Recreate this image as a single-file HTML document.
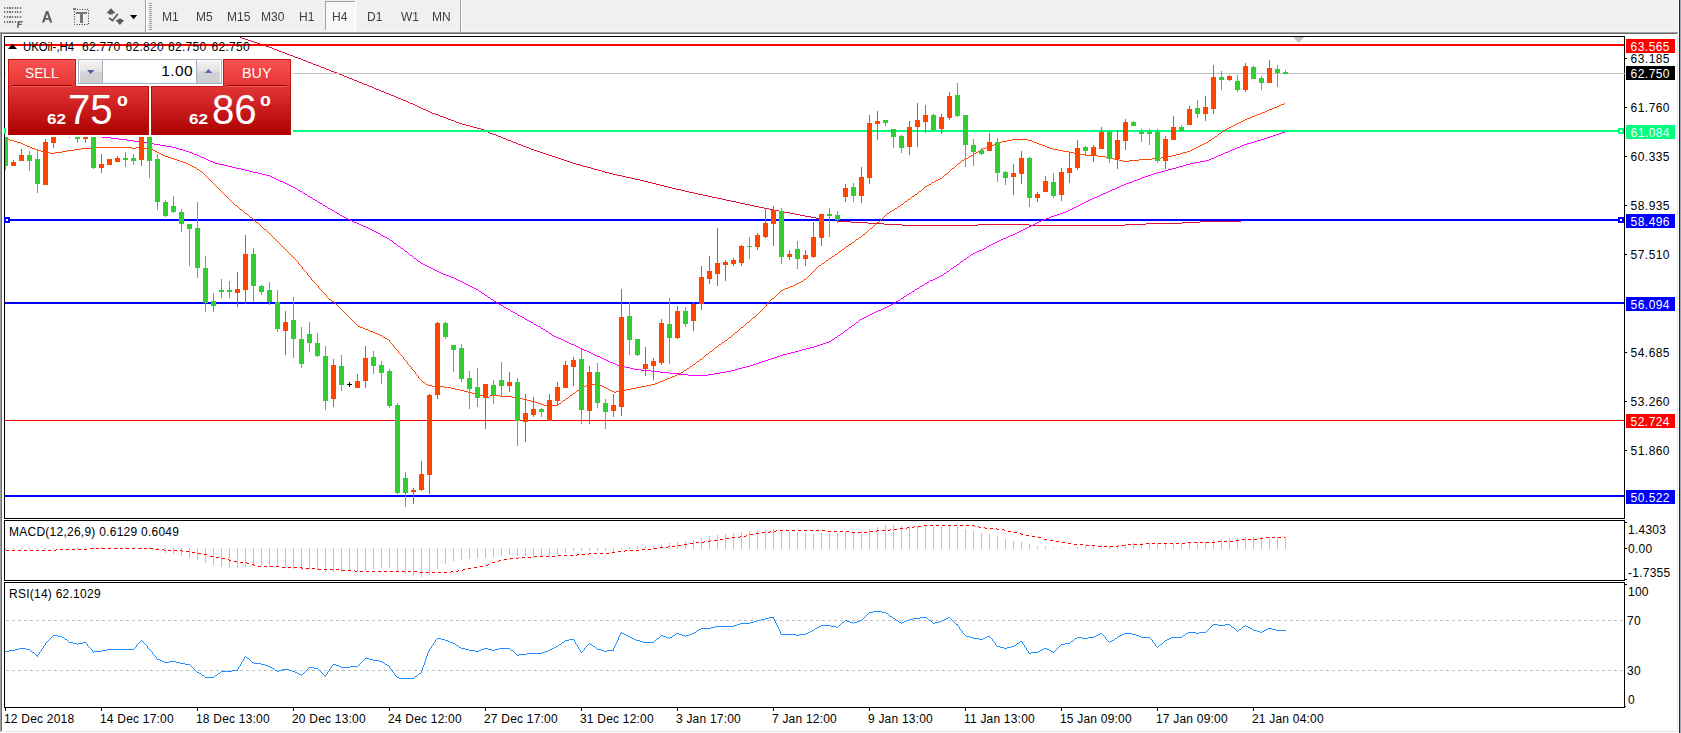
<!DOCTYPE html>
<html><head><meta charset="utf-8"><title>UKOil H4</title>
<style>
html,body{margin:0;padding:0;background:#fff;}
body{width:1681px;height:733px;overflow:hidden;position:relative;font-family:"Liberation Sans",sans-serif;}
svg{position:absolute;left:0;top:0;}
.t{position:absolute;white-space:pre;font-family:"Liberation Sans",sans-serif;}
</style></head><body>
<svg width="1681" height="733" viewBox="0 0 1681 733" shape-rendering="crispEdges">
<rect x="0" y="0" width="1681" height="733" fill="#fff"/>
<rect x="0" y="0" width="1678" height="32" fill="#f0f0f0"/>
<rect x="0" y="31" width="1678" height="1" fill="#f6f6f6"/>
<rect x="0" y="32" width="1678" height="1" fill="#a0a0a0"/>
<rect x="0" y="32" width="1" height="700" fill="#a0a0a0"/>
<rect x="1" y="33" width="1677" height="1" fill="#696969"/>
<rect x="1" y="33" width="1" height="698" fill="#696969"/>
<rect x="1677" y="33" width="1" height="699" fill="#e3e3e3"/>
<rect x="2" y="731" width="1676" height="1" fill="#e3e3e3"/>
<rect x="1678" y="0" width="1" height="733" fill="#fff"/>
<rect x="0" y="732" width="1679" height="1" fill="#fff"/>
<rect x="1679" y="0" width="1" height="733" fill="#222833"/>
<rect x="1680" y="0" width="1" height="733" fill="#a0a8b8"/>
<rect x="4" y="7" width="18" height="2" fill="#d6d6d6"/>
<rect x="4.3" y="7" width="1.1" height="2" fill="#7a7a7a"/>
<rect x="6.87" y="7" width="1.1" height="2" fill="#7a7a7a"/>
<rect x="9.44" y="7" width="1.1" height="2" fill="#7a7a7a"/>
<rect x="12.01" y="7" width="1.1" height="2" fill="#7a7a7a"/>
<rect x="14.58" y="7" width="1.1" height="2" fill="#7a7a7a"/>
<rect x="17.15" y="7" width="1.1" height="2" fill="#7a7a7a"/>
<rect x="19.72" y="7" width="1.1" height="2" fill="#7a7a7a"/>
<rect x="4" y="11" width="18" height="2" fill="#d6d6d6"/>
<rect x="4.3" y="11" width="1.1" height="2" fill="#7a7a7a"/>
<rect x="6.87" y="11" width="1.1" height="2" fill="#7a7a7a"/>
<rect x="9.44" y="11" width="1.1" height="2" fill="#7a7a7a"/>
<rect x="12.01" y="11" width="1.1" height="2" fill="#7a7a7a"/>
<rect x="14.58" y="11" width="1.1" height="2" fill="#7a7a7a"/>
<rect x="17.15" y="11" width="1.1" height="2" fill="#7a7a7a"/>
<rect x="19.72" y="11" width="1.1" height="2" fill="#7a7a7a"/>
<rect x="4" y="16" width="18" height="2" fill="#d6d6d6"/>
<rect x="4.3" y="16" width="1.1" height="2" fill="#7a7a7a"/>
<rect x="6.87" y="16" width="1.1" height="2" fill="#7a7a7a"/>
<rect x="9.44" y="16" width="1.1" height="2" fill="#7a7a7a"/>
<rect x="12.01" y="16" width="1.1" height="2" fill="#7a7a7a"/>
<rect x="14.58" y="16" width="1.1" height="2" fill="#7a7a7a"/>
<rect x="17.15" y="16" width="1.1" height="2" fill="#7a7a7a"/>
<rect x="19.72" y="16" width="1.1" height="2" fill="#7a7a7a"/>
<rect x="4" y="21" width="13" height="2" fill="#d6d6d6"/>
<rect x="4.3" y="21" width="1.1" height="2" fill="#7a7a7a"/>
<rect x="6.87" y="21" width="1.1" height="2" fill="#7a7a7a"/>
<rect x="9.44" y="21" width="1.1" height="2" fill="#7a7a7a"/>
<rect x="12.01" y="21" width="1.1" height="2" fill="#7a7a7a"/>
<rect x="14.58" y="21" width="1.1" height="2" fill="#7a7a7a"/>
<rect x="74.5" y="9.5" width="14" height="15" fill="none" stroke="#3a3a3a" stroke-width="1" stroke-dasharray="1 1.5" shape-rendering="auto"/>
<rect x="73" y="7.5" width="2.6" height="2" fill="#7a7a7a"/>
<rect x="76.3" y="12" width="10.2" height="2" fill="#787878"/>
<rect x="80" y="12" width="2.8" height="10.6" fill="#787878"/>
<g shape-rendering="auto" fill="#5c5c5c"><path d="M110.9 8.3 L115.7 13.3 L113 13.3 L113 14.6 L108.8 14.6 L108.8 13.3 L106.3 13.3 Z"/><path d="M119.9 25 L124.4 20 L122 20 L122 18.8 L117.8 18.8 L117.8 20 L115.4 20 Z"/><path d="M109 17.8 L112.4 20.7 L117.8 14" fill="none" stroke="#505050" stroke-width="1.6"/></g>
<path d="M130 15 L137.2 15 L133.6 19.2 Z" fill="#000" shape-rendering="auto"/>
<rect x="145" y="0" width="1" height="32" fill="#a0a0a0"/>
<rect x="146" y="0" width="1" height="32" fill="#fff"/>
<rect x="149" y="3" width="3" height="1" fill="#a0a0a0"/>
<rect x="149" y="5" width="3" height="1" fill="#a0a0a0"/>
<rect x="149" y="7" width="3" height="1" fill="#a0a0a0"/>
<rect x="149" y="9" width="3" height="1" fill="#a0a0a0"/>
<rect x="149" y="11" width="3" height="1" fill="#a0a0a0"/>
<rect x="149" y="13" width="3" height="1" fill="#a0a0a0"/>
<rect x="149" y="15" width="3" height="1" fill="#a0a0a0"/>
<rect x="149" y="17" width="3" height="1" fill="#a0a0a0"/>
<rect x="149" y="19" width="3" height="1" fill="#a0a0a0"/>
<rect x="149" y="21" width="3" height="1" fill="#a0a0a0"/>
<rect x="149" y="23" width="3" height="1" fill="#a0a0a0"/>
<rect x="149" y="25" width="3" height="1" fill="#a0a0a0"/>
<rect x="149" y="27" width="3" height="1" fill="#a0a0a0"/>
<rect x="149" y="29" width="3" height="1" fill="#a0a0a0"/>
<rect x="460" y="0" width="1" height="32" fill="#a0a0a0"/>
<rect x="461" y="0" width="1" height="32" fill="#fff"/>
<rect x="325" y="1" width="31" height="29" fill="#f8f8f8"/>
<rect x="325" y="1" width="31" height="1" fill="#a0a0a0"/>
<rect x="325" y="1" width="1" height="29" fill="#a0a0a0"/>
<rect x="355" y="1" width="1" height="30" fill="#fff"/>
<rect x="325" y="30" width="31" height="1" fill="#fff"/>
<rect x="4" y="36" width="1621" height="1" fill="#000"/>
<rect x="4" y="518" width="1621" height="1" fill="#000"/>
<rect x="4" y="36" width="1" height="483" fill="#000"/>
<rect x="1624" y="36" width="1" height="483" fill="#000"/>
<rect x="4" y="520" width="1621" height="1" fill="#000"/>
<rect x="4" y="580" width="1621" height="1" fill="#000"/>
<rect x="4" y="520" width="1" height="61" fill="#000"/>
<rect x="1624" y="520" width="1" height="61" fill="#000"/>
<rect x="4" y="582" width="1621" height="1" fill="#000"/>
<rect x="4" y="707" width="1621" height="1" fill="#000"/>
<rect x="4" y="582" width="1" height="126" fill="#000"/>
<rect x="1624" y="582" width="1" height="126" fill="#000"/>
<clipPath id="cm"><rect x="5" y="37" width="1619" height="481"/></clipPath><g clip-path="url(#cm)">
<path d="M1293 37 L1304.5 37 L1298.7 43 Z" fill="#c0c0c0" shape-rendering="auto"/>
<path d="M232.5 34V35M233.5 34V35M234.5 35V36M235.5 35V36M236.5 35V36M237.5 36V37M238.5 36V37M239.5 36V37M240.5 37V38M241.5 37V38M242.5 38V39M243.5 38V39M244.5 38V39M245.5 39V40M246.5 39V40M247.5 39V40M248.5 40V41M249.5 40V41M250.5 40V41M251.5 41V42M252.5 41V42M253.5 41V42M254.5 42V43M255.5 42V43M256.5 42V43M257.5 43V44M258.5 43V44M259.5 43V44M260.5 44V45M261.5 44V45M262.5 44V45M263.5 45V46M264.5 45V46M265.5 45V46M266.5 46V47M267.5 46V47M268.5 46V47M269.5 47V48M270.5 47V48M271.5 47V48M272.5 48V49M273.5 48V49M274.5 49V50M275.5 49V50M276.5 49V50M277.5 50V51M278.5 50V51M279.5 51V52M280.5 51V52M281.5 51V52M282.5 52V53M283.5 52V53M284.5 52V53M285.5 53V54M286.5 53V54M287.5 54V55M288.5 54V55M289.5 54V55M290.5 55V56M291.5 55V56M292.5 55V56M293.5 56V57M294.5 56V57M295.5 57V58M296.5 57V58M297.5 57V58M298.5 58V59M299.5 58V59M300.5 58V59M301.5 59V60M302.5 59V60M303.5 60V61M304.5 60V61M305.5 60V61M306.5 61V62M307.5 61V62M308.5 62V63M309.5 62V63M310.5 62V63M311.5 63V64M312.5 63V64M313.5 64V65M314.5 64V65M315.5 64V65M316.5 65V66M317.5 65V66M318.5 65V66M319.5 66V67M320.5 66V67M321.5 67V68M322.5 67V68M323.5 67V68M324.5 68V69M325.5 68V69M326.5 69V70M327.5 69V70M328.5 69V70M329.5 70V71M330.5 70V71M331.5 71V72M332.5 71V72M333.5 71V72M334.5 72V73M335.5 72V73M336.5 72V73M337.5 73V74M338.5 73V74M339.5 74V75M340.5 74V75M341.5 74V75M342.5 75V76M343.5 75V76M344.5 76V77M345.5 76V77M346.5 76V77M347.5 77V78M348.5 77V78M349.5 78V79M350.5 78V79M351.5 78V79M352.5 79V80M353.5 79V80M354.5 80V81M355.5 80V81M356.5 80V81M357.5 81V82M358.5 81V82M359.5 82V83M360.5 82V83M361.5 82V83M362.5 83V84M363.5 83V84M364.5 84V85M365.5 84V85M366.5 84V85M367.5 85V86M368.5 85V86M369.5 86V87M370.5 86V87M371.5 86V87M372.5 87V88M373.5 87V88M374.5 88V89M375.5 88V89M376.5 89V90M377.5 89V90M378.5 89V90M379.5 90V91M380.5 90V91M381.5 91V92M382.5 91V92M383.5 91V92M384.5 92V93M385.5 92V93M386.5 93V94M387.5 93V94M388.5 93V94M389.5 94V95M390.5 94V95M391.5 95V96M392.5 95V96M393.5 95V96M394.5 96V97M395.5 96V97M396.5 97V98M397.5 97V98M398.5 98V99M399.5 98V99M400.5 98V99M401.5 99V100M402.5 99V100M403.5 100V101M404.5 100V101M405.5 100V101M406.5 101V102M407.5 101V102M408.5 102V103M409.5 102V103M410.5 103V104M411.5 103V104M412.5 103V104M413.5 104V105M414.5 104V105M415.5 105V106M416.5 105V106M417.5 106V107M418.5 106V107M419.5 107V108M420.5 107V108M421.5 108V109M422.5 108V109M423.5 109V110M424.5 109V110M425.5 109V110M426.5 110V111M427.5 110V111M428.5 111V112M429.5 111V112M430.5 112V113M431.5 112V113M432.5 113V114M433.5 113V114M434.5 113V114M435.5 114V115M436.5 114V115M437.5 114V115M438.5 115V116M439.5 115V116M440.5 116V117M441.5 116V117M442.5 116V117M443.5 117V118M444.5 117V118M445.5 117V118M446.5 118V119M447.5 118V119M448.5 119V120M449.5 119V120M450.5 119V120M451.5 120V121M452.5 120V121M453.5 120V121M454.5 121V122M455.5 121V122M456.5 122V123M457.5 122V123M458.5 122V123M459.5 123V124M460.5 123V124M461.5 123V124M462.5 124V125M463.5 124V125M464.5 124V125M465.5 124V125M466.5 125V126M467.5 125V126M468.5 125V126M469.5 125V126M470.5 126V127M471.5 126V127M472.5 126V127M473.5 127V128M474.5 127V128M475.5 127V128M476.5 127V128M477.5 128V129M478.5 128V129M479.5 128V129M480.5 128V129M481.5 129V130M482.5 129V130M483.5 129V130M484.5 130V131M485.5 130V131M486.5 131V132M487.5 131V132M488.5 132V133M489.5 132V133M490.5 133V134M491.5 133V134M492.5 133V134M493.5 134V135M494.5 134V135M495.5 134V135M496.5 135V136M497.5 135V136M498.5 136V137M499.5 136V137M500.5 136V137M501.5 137V138M502.5 137V138M503.5 138V139M504.5 138V139M505.5 138V139M506.5 139V140M507.5 139V140M508.5 140V141M509.5 140V141M510.5 140V141M511.5 141V142M512.5 141V142M513.5 142V143M514.5 142V143M515.5 142V143M516.5 143V144M517.5 143V144M518.5 144V145M519.5 144V145M520.5 144V145M521.5 145V146M522.5 145V146M523.5 146V147M524.5 146V147M525.5 146V147M526.5 147V148M527.5 147V148M528.5 147V148M529.5 148V149M530.5 148V149M531.5 149V150M532.5 149V150M533.5 149V150M534.5 150V151M535.5 150V151M536.5 150V151M537.5 151V152M538.5 151V152M539.5 151V152M540.5 152V153M541.5 152V153M542.5 152V153M543.5 153V154M544.5 153V154M545.5 153V154M546.5 154V155M547.5 154V155M548.5 154V155M549.5 155V156M550.5 155V156M551.5 155V156M552.5 156V157M553.5 156V157M554.5 156V157M555.5 157V158M556.5 157V158M557.5 157V158M558.5 158V159M559.5 158V159M560.5 158V159M561.5 159V160M562.5 159V160M563.5 159V160M564.5 160V161M565.5 160V161M566.5 160V161M567.5 161V162M568.5 161V162M569.5 161V162M570.5 162V163M571.5 162V163M572.5 162V163M573.5 163V164M574.5 163V164M575.5 163V164M576.5 164V165M577.5 164V165M578.5 164V165M579.5 164V165M580.5 165V166M581.5 165V166M582.5 165V166M583.5 166V167M584.5 166V167M585.5 166V167M586.5 166V167M587.5 167V168M588.5 167V168M589.5 167V168M590.5 167V168M591.5 168V169M592.5 168V169M593.5 168V169M594.5 169V170M595.5 169V170M596.5 169V170M597.5 169V170M598.5 170V171M599.5 170V171M600.5 170V171M601.5 170V171M602.5 171V172M603.5 171V172M604.5 171V172M605.5 172V173M606.5 172V173M607.5 172V173M608.5 172V173M609.5 173V174M610.5 173V174M611.5 173V174M612.5 173V174M613.5 174V175M614.5 174V175M615.5 174V175M616.5 174V175M617.5 175V176M618.5 175V176M619.5 175V176M620.5 175V176M621.5 175V176M622.5 176V177M623.5 176V177M624.5 176V177M625.5 176V177M626.5 177V178M627.5 177V178M628.5 177V178M629.5 177V178M630.5 177V178M631.5 178V179M632.5 178V179M633.5 178V179M634.5 178V179M635.5 179V180M636.5 179V180M637.5 179V180M638.5 179V180M639.5 179V180M640.5 180V181M641.5 180V181M642.5 180V181M643.5 180V181M644.5 181V182M645.5 181V182M646.5 181V182M647.5 181V182M648.5 182V183M649.5 182V183M650.5 182V183M651.5 182V183M652.5 183V184M653.5 183V184M654.5 183V184M655.5 183V184M656.5 184V185M657.5 184V185M658.5 184V185M659.5 184V185M660.5 185V186M661.5 185V186M662.5 185V186M663.5 185V186M664.5 186V187M665.5 186V187M666.5 186V187M667.5 186V187M668.5 187V188M669.5 187V188M670.5 187V188M671.5 187V188M672.5 188V189M673.5 188V189M674.5 188V189M675.5 188V189M676.5 189V190M677.5 189V190M678.5 189V190M679.5 189V190M680.5 189V190M681.5 190V191M682.5 190V191M683.5 190V191M684.5 190V191M685.5 191V192M686.5 191V192M687.5 191V192M688.5 191V192M689.5 192V193M690.5 192V193M691.5 192V193M692.5 192V193M693.5 192V193M694.5 193V194M695.5 193V194M696.5 193V194M697.5 193V194M698.5 194V195M699.5 194V195M700.5 194V195M701.5 194V195M702.5 194V195M703.5 195V196M704.5 195V196M705.5 195V196M706.5 195V196M707.5 195V196M708.5 196V197M709.5 196V197M710.5 196V197M711.5 196V197M712.5 197V198M713.5 197V198M714.5 197V198M715.5 197V198M716.5 197V198M717.5 198V199M718.5 198V199M719.5 198V199M720.5 198V199M721.5 198V199M722.5 199V200M723.5 199V200M724.5 199V200M725.5 199V200M726.5 200V201M727.5 200V201M728.5 200V201M729.5 200V201M730.5 200V201M731.5 201V202M732.5 201V202M733.5 201V202M734.5 201V202M735.5 201V202M736.5 202V203M737.5 202V203M738.5 202V203M739.5 202V203M740.5 203V204M741.5 203V204M742.5 203V204M743.5 203V204M744.5 203V204M745.5 204V205M746.5 204V205M747.5 204V205M748.5 204V205M749.5 204V205M750.5 205V206M751.5 205V206M752.5 205V206M753.5 205V206M754.5 206V207M755.5 206V207M756.5 206V207M757.5 206V207M758.5 206V207M759.5 207V208M760.5 207V208M761.5 207V208M762.5 207V208M763.5 207V208M764.5 208V209M765.5 208V209M766.5 208V209M767.5 208V209M768.5 208V209M769.5 209V210M770.5 209V210M771.5 209V210M772.5 209V210M773.5 209V210M774.5 210V211M775.5 210V211M776.5 210V211M777.5 210V211M778.5 210V211M779.5 211V212M780.5 211V212M781.5 211V212M782.5 211V212M783.5 211V212M784.5 212V213M785.5 212V213M786.5 212V213M787.5 212V213M788.5 212V213M789.5 212V213M790.5 213V214M791.5 213V214M792.5 213V214M793.5 213V214M794.5 213V214M795.5 214V215M796.5 214V215M797.5 214V215M798.5 214V215M799.5 214V215M800.5 215V216M801.5 215V216M802.5 215V216M803.5 215V216M804.5 215V216M805.5 216V217M806.5 216V217M807.5 216V217M808.5 216V217M809.5 216V217M810.5 216V217M811.5 217V218M812.5 217V218M813.5 217V218M814.5 217V218M815.5 217V218M816.5 218V219M817.5 218V219M818.5 218V219M819.5 218V219M820.5 218V219M821.5 218V219M822.5 219V220M823.5 219V220M824.5 219V220M825.5 219V220M826.5 219V220M827.5 219V220M828.5 219V220M829.5 219V220M830.5 220V221M831.5 220V221M832.5 220V221M833.5 220V221M834.5 220V221M835.5 220V221M836.5 220V221M837.5 220V221M838.5 221V222M839.5 221V222M840.5 221V222M841.5 221V222M842.5 221V222M843.5 221V222M844.5 221V222M845.5 221V222M846.5 221V222M847.5 221V222M848.5 221V222M849.5 221V222M850.5 221V222M851.5 222V223M852.5 222V223M853.5 222V223M854.5 222V223M855.5 222V223M856.5 222V223M857.5 222V223M858.5 222V223M859.5 222V223M860.5 222V223M861.5 222V223M862.5 222V223M863.5 222V223M864.5 222V223M865.5 222V223M866.5 222V223M867.5 222V223M868.5 223V224M869.5 223V224M870.5 223V224M871.5 223V224M872.5 223V224M873.5 223V224M874.5 223V224M875.5 223V224M876.5 223V224M877.5 223V224M878.5 223V224M879.5 223V224M880.5 223V224M881.5 223V224M882.5 223V224M883.5 223V224M884.5 224V225M885.5 224V225M886.5 224V225M887.5 224V225M888.5 224V225M889.5 224V225M890.5 224V225M891.5 224V225M892.5 224V225M893.5 224V225M894.5 224V225M895.5 224V225M896.5 224V225M897.5 224V225M898.5 224V225M899.5 224V225M900.5 224V225M901.5 224V225M902.5 225V226M903.5 225V226M904.5 225V226M905.5 225V226M906.5 225V226M907.5 225V226M908.5 225V226M909.5 225V226M910.5 225V226M911.5 225V226M912.5 225V226M913.5 225V226M914.5 225V226M915.5 225V226M916.5 225V226M917.5 225V226M918.5 225V226M919.5 225V226M920.5 225V226M921.5 225V226M922.5 225V226M923.5 225V226M924.5 225V226M925.5 225V226M926.5 225V226M927.5 225V226M928.5 225V226M929.5 225V226M930.5 225V226M931.5 225V226M932.5 225V226M933.5 225V226M934.5 225V226M935.5 225V226M936.5 225V226M937.5 225V226M938.5 225V226M939.5 225V226M940.5 225V226M941.5 225V226M942.5 225V226M943.5 225V226M944.5 225V226M945.5 225V226M946.5 225V226M947.5 225V226M948.5 225V226M949.5 225V226M950.5 225V226M951.5 225V226M952.5 225V226M953.5 225V226M954.5 225V226M955.5 225V226M956.5 225V226M957.5 225V226M958.5 225V226M959.5 225V226M960.5 225V226M961.5 225V226M962.5 225V226M963.5 225V226M964.5 225V226M965.5 225V226M966.5 225V226M967.5 225V226M968.5 225V226M969.5 225V226M970.5 225V226M971.5 225V226M972.5 225V226M973.5 225V226M974.5 225V226M975.5 225V226M976.5 225V226M977.5 225V226M978.5 224V225M979.5 224V225M980.5 224V225M981.5 224V225M982.5 224V225M983.5 224V225M984.5 224V225M985.5 224V225M986.5 224V225M987.5 224V225M988.5 224V225M989.5 224V225M990.5 224V225M991.5 224V225M992.5 224V225M993.5 224V225M994.5 224V225M995.5 224V225M996.5 224V225M997.5 224V225M998.5 224V225M999.5 224V225M1000.5 224V225M1001.5 224V225M1002.5 224V225M1003.5 224V225M1004.5 224V225M1005.5 224V225M1006.5 224V225M1007.5 224V225M1008.5 224V225M1009.5 224V225M1010.5 224V225M1011.5 224V225M1012.5 224V225M1013.5 224V225M1014.5 224V225M1015.5 224V225M1016.5 224V225M1017.5 224V225M1018.5 224V225M1019.5 224V225M1020.5 224V225M1021.5 224V225M1022.5 224V225M1023.5 224V225M1024.5 224V225M1025.5 224V225M1026.5 224V225M1027.5 224V225M1028.5 224V225M1029.5 225V226M1030.5 225V226M1031.5 225V226M1032.5 225V226M1033.5 225V226M1034.5 225V226M1035.5 225V226M1036.5 225V226M1037.5 225V226M1038.5 225V226M1039.5 225V226M1040.5 225V226M1041.5 225V226M1042.5 225V226M1043.5 225V226M1044.5 225V226M1045.5 225V226M1046.5 225V226M1047.5 225V226M1048.5 225V226M1049.5 225V226M1050.5 225V226M1051.5 225V226M1052.5 225V226M1053.5 225V226M1054.5 225V226M1055.5 225V226M1056.5 225V226M1057.5 225V226M1058.5 225V226M1059.5 225V226M1060.5 225V226M1061.5 225V226M1062.5 225V226M1063.5 225V226M1064.5 225V226M1065.5 225V226M1066.5 225V226M1067.5 225V226M1068.5 225V226M1069.5 225V226M1070.5 225V226M1071.5 225V226M1072.5 225V226M1073.5 225V226M1074.5 225V226M1075.5 225V226M1076.5 225V226M1077.5 225V226M1078.5 225V226M1079.5 225V226M1080.5 225V226M1081.5 225V226M1082.5 225V226M1083.5 225V226M1084.5 225V226M1085.5 225V226M1086.5 225V226M1087.5 225V226M1088.5 225V226M1089.5 225V226M1090.5 225V226M1091.5 225V226M1092.5 225V226M1093.5 225V226M1094.5 225V226M1095.5 225V226M1096.5 225V226M1097.5 225V226M1098.5 225V226M1099.5 225V226M1100.5 225V226M1101.5 225V226M1102.5 225V226M1103.5 225V226M1104.5 225V226M1105.5 225V226M1106.5 225V226M1107.5 225V226M1108.5 225V226M1109.5 225V226M1110.5 225V226M1111.5 225V226M1112.5 225V226M1113.5 225V226M1114.5 225V226M1115.5 225V226M1116.5 225V226M1117.5 225V226M1118.5 225V226M1119.5 225V226M1120.5 225V226M1121.5 225V226M1122.5 225V226M1123.5 225V226M1124.5 225V226M1125.5 224V225M1126.5 224V225M1127.5 224V225M1128.5 224V225M1129.5 224V225M1130.5 224V225M1131.5 224V225M1132.5 224V225M1133.5 224V225M1134.5 224V225M1135.5 224V225M1136.5 224V225M1137.5 224V225M1138.5 224V225M1139.5 224V225M1140.5 224V225M1141.5 224V225M1142.5 224V225M1143.5 224V225M1144.5 224V225M1145.5 224V225M1146.5 223V224M1147.5 223V224M1148.5 223V224M1149.5 223V224M1150.5 223V224M1151.5 223V224M1152.5 223V224M1153.5 223V224M1154.5 223V224M1155.5 223V224M1156.5 223V224M1157.5 223V224M1158.5 223V224M1159.5 223V224M1160.5 223V224M1161.5 223V224M1162.5 223V224M1163.5 223V224M1164.5 223V224M1165.5 223V224M1166.5 223V224M1167.5 223V224M1168.5 223V224M1169.5 223V224M1170.5 223V224M1171.5 223V224M1172.5 223V224M1173.5 223V224M1174.5 223V224M1175.5 223V224M1176.5 223V224M1177.5 223V224M1178.5 223V224M1179.5 223V224M1180.5 223V224M1181.5 223V224M1182.5 222V223M1183.5 222V223M1184.5 222V223M1185.5 222V223M1186.5 222V223M1187.5 222V223M1188.5 222V223M1189.5 222V223M1190.5 222V223M1191.5 222V223M1192.5 222V223M1193.5 222V223M1194.5 222V223M1195.5 222V223M1196.5 222V223M1197.5 222V223M1198.5 222V223M1199.5 222V223M1200.5 221V222M1201.5 221V222M1202.5 221V222M1203.5 221V222M1204.5 221V222M1205.5 221V222M1206.5 221V222M1207.5 221V222M1208.5 221V222M1209.5 221V222M1210.5 221V222M1211.5 221V222M1212.5 221V222M1213.5 221V222M1214.5 221V222M1215.5 221V222M1216.5 221V222M1217.5 221V222M1218.5 221V222M1219.5 221V222M1220.5 221V222M1221.5 221V222M1222.5 221V222M1223.5 221V222M1224.5 221V222M1225.5 221V222M1226.5 221V222M1227.5 221V222M1228.5 221V222M1229.5 221V222M1230.5 221V222M1231.5 221V222M1232.5 221V222M1233.5 221V222M1234.5 221V222M1235.5 221V222M1236.5 221V222M1237.5 221V222M1238.5 221V222M1239.5 221V222M1240.5 221V222" fill="none" stroke="#dc143c" stroke-width="1"/>
<rect x="5" y="44" width="1619" height="2" fill="#ff0000"/>
<rect x="5" y="73" width="1619" height="1" fill="#c0c0c0"/>
<rect x="5" y="130" width="1619" height="2" fill="#00ff7f"/>
<rect x="5" y="219" width="1619" height="2" fill="#0000ff"/>
<rect x="5" y="302" width="1619" height="2" fill="#0000ff"/>
<rect x="5" y="420" width="1619" height="1" fill="#ff0000"/>
<rect x="5" y="495" width="1619" height="2" fill="#0000ff"/>
<path d="M5.5 128V129M6.5 128V129M7.5 128V129M8.5 128V129M9.5 128V129M10.5 128V129M11.5 128V129M12.5 128V129M13.5 128V129M14.5 128V129M15.5 128V129M16.5 128V129M17.5 129V130M18.5 129V130M19.5 129V130M20.5 129V130M21.5 129V130M22.5 129V130M23.5 129V130M24.5 129V130M25.5 129V130M26.5 129V130M27.5 130V131M28.5 130V131M29.5 130V131M30.5 130V131M31.5 130V131M32.5 130V131M33.5 130V131M34.5 130V131M35.5 130V131M36.5 130V131M37.5 130V131M38.5 130V131M39.5 131V132M40.5 131V132M41.5 131V132M42.5 131V132M43.5 131V132M44.5 131V132M45.5 131V132M46.5 131V132M47.5 131V132M48.5 131V132M49.5 132V133M50.5 132V133M51.5 132V133M52.5 132V133M53.5 132V133M54.5 132V133M55.5 132V133M56.5 132V133M57.5 132V133M58.5 132V133M59.5 132V133M60.5 132V133M61.5 133V134M62.5 133V134M63.5 133V134M64.5 133V134M65.5 133V134M66.5 133V134M67.5 133V134M68.5 133V134M69.5 133V134M70.5 133V134M71.5 134V135M72.5 134V135M73.5 134V135M74.5 134V135M75.5 134V135M76.5 134V135M77.5 134V135M78.5 134V135M79.5 134V135M80.5 134V135M81.5 135V136M82.5 135V136M83.5 135V136M84.5 135V136M85.5 135V136M86.5 135V136M87.5 135V136M88.5 135V136M89.5 135V136M90.5 135V136M91.5 135V136M92.5 136V137M93.5 136V137M94.5 136V137M95.5 136V137M96.5 136V137M97.5 136V137M98.5 136V137M99.5 136V137M100.5 136V137M101.5 136V137M102.5 137V138M103.5 137V138M104.5 137V138M105.5 137V138M106.5 137V138M107.5 137V138M108.5 137V138M109.5 137V138M110.5 137V138M111.5 138V139M112.5 138V139M113.5 138V139M114.5 138V139M115.5 138V139M116.5 138V139M117.5 138V139M118.5 138V139M119.5 139V140M120.5 139V140M121.5 139V140M122.5 139V140M123.5 139V140M124.5 139V140M125.5 139V140M126.5 139V140M127.5 140V141M128.5 140V141M129.5 140V141M130.5 140V141M131.5 140V141M132.5 140V141M133.5 140V141M134.5 141V142M135.5 141V142M136.5 141V142M137.5 141V142M138.5 141V142M139.5 141V142M140.5 141V142M141.5 141V142M142.5 142V143M143.5 142V143M144.5 142V143M145.5 142V143M146.5 142V143M147.5 142V143M148.5 143V144M149.5 143V144M150.5 143V144M151.5 143V144M152.5 143V144M153.5 143V144M154.5 144V145M155.5 144V145M156.5 144V145M157.5 144V145M158.5 144V145M159.5 144V145M160.5 145V146M161.5 145V146M162.5 145V146M163.5 145V146M164.5 145V146M165.5 145V146M166.5 146V147M167.5 146V147M168.5 146V147M169.5 146V147M170.5 146V147M171.5 146V147M172.5 147V148M173.5 147V148M174.5 147V148M175.5 147V148M176.5 148V149M177.5 148V149M178.5 148V149M179.5 149V150M180.5 149V150M181.5 149V150M182.5 149V150M183.5 150V151M184.5 150V151M185.5 150V151M186.5 151V152M187.5 151V152M188.5 151V152M189.5 152V153M190.5 152V153M191.5 152V153M192.5 153V154M193.5 153V154M194.5 154V155M195.5 154V155M196.5 154V155M197.5 155V156M198.5 155V156M199.5 156V157M200.5 156V157M201.5 157V158M202.5 157V158M203.5 157V158M204.5 158V159M205.5 158V159M206.5 159V160M207.5 159V160M208.5 160V161M209.5 160V161M210.5 161V162M211.5 161V162M212.5 161V162M213.5 162V163M214.5 162V163M215.5 163V164M216.5 163V164M217.5 163V164M218.5 163V164M219.5 164V165M220.5 164V165M221.5 164V165M222.5 164V165M223.5 164V165M224.5 165V166M225.5 165V166M226.5 165V166M227.5 165V166M228.5 166V167M229.5 166V167M230.5 166V167M231.5 166V167M232.5 167V168M233.5 167V168M234.5 167V168M235.5 167V168M236.5 168V169M237.5 168V169M238.5 168V169M239.5 168V169M240.5 168V169M241.5 169V170M242.5 169V170M243.5 169V170M244.5 169V170M245.5 170V171M246.5 170V171M247.5 170V171M248.5 170V171M249.5 171V172M250.5 171V172M251.5 171V172M252.5 171V172M253.5 172V173M254.5 172V173M255.5 172V173M256.5 172V173M257.5 172V173M258.5 173V174M259.5 173V174M260.5 173V174M261.5 173V174M262.5 174V175M263.5 174V175M264.5 174V175M265.5 174V175M266.5 175V176M267.5 175V176M268.5 175V176M269.5 175V176M270.5 176V177M271.5 176V177M272.5 177V178M273.5 177V178M274.5 178V179M275.5 178V179M276.5 179V180M277.5 179V180M278.5 180V181M279.5 180V181M280.5 181V182M281.5 181V182M282.5 181V182M283.5 182V183M284.5 182V183M285.5 183V184M286.5 183V184M287.5 184V185M288.5 184V185M289.5 185V186M290.5 185V186M291.5 186V187M292.5 186V187M293.5 187V188M294.5 187V188M295.5 188V189M296.5 188V189M297.5 189V190M298.5 190V191M299.5 190V191M300.5 191V192M301.5 191V192M302.5 192V193M303.5 193V194M304.5 193V194M305.5 194V195M306.5 194V195M307.5 195V196M308.5 196V197M309.5 196V197M310.5 197V198M311.5 197V198M312.5 198V199M313.5 199V200M314.5 199V200M315.5 200V201M316.5 200V201M317.5 201V202M318.5 202V203M319.5 202V203M320.5 203V204M321.5 203V204M322.5 204V205M323.5 205V206M324.5 205V206M325.5 206V207M326.5 206V207M327.5 207V208M328.5 208V209M329.5 208V209M330.5 209V210M331.5 209V210M332.5 210V211M333.5 210V211M334.5 211V212M335.5 212V213M336.5 212V213M337.5 213V214M338.5 213V214M339.5 214V215M340.5 215V216M341.5 215V216M342.5 216V217M343.5 216V217M344.5 217V218M345.5 217V218M346.5 218V219M347.5 218V219M348.5 219V220M349.5 219V220M350.5 220V221M351.5 220V221M352.5 221V222M353.5 221V222M354.5 222V223M355.5 222V223M356.5 222V223M357.5 223V224M358.5 223V224M359.5 224V225M360.5 224V225M361.5 225V226M362.5 225V226M363.5 226V227M364.5 226V227M365.5 226V227M366.5 227V228M367.5 227V228M368.5 228V229M369.5 228V229M370.5 229V230M371.5 229V230M372.5 230V231M373.5 230V231M374.5 231V232M375.5 231V232M376.5 232V233M377.5 232V233M378.5 233V234M379.5 233V234M380.5 234V235M381.5 235V236M382.5 235V236M383.5 236V237M384.5 236V237M385.5 237V238M386.5 237V238M387.5 238V239M388.5 238V239M389.5 239V240M390.5 240V241M391.5 240V241M392.5 241V242M393.5 242V243M394.5 243V244M395.5 243V244M396.5 244V245M397.5 245V246M398.5 246V247M399.5 246V247M400.5 247V248M401.5 248V249M402.5 248V249M403.5 249V250M404.5 250V251M405.5 251V252M406.5 251V252M407.5 252V253M408.5 253V254M409.5 254V255M410.5 255V256M411.5 255V256M412.5 256V257M413.5 257V258M414.5 258V259M415.5 258V259M416.5 259V260M417.5 260V261M418.5 261V262M419.5 261V262M420.5 262V263M421.5 263V264M422.5 263V264M423.5 264V265M424.5 264V265M425.5 265V266M426.5 265V266M427.5 266V267M428.5 266V267M429.5 267V268M430.5 267V268M431.5 268V269M432.5 268V269M433.5 269V270M434.5 269V270M435.5 270V271M436.5 270V271M437.5 271V272M438.5 271V272M439.5 272V273M440.5 272V273M441.5 273V274M442.5 273V274M443.5 274V275M444.5 274V275M445.5 274V275M446.5 275V276M447.5 275V276M448.5 275V276M449.5 276V277M450.5 276V277M451.5 277V278M452.5 277V278M453.5 277V278M454.5 278V279M455.5 278V279M456.5 279V280M457.5 279V280M458.5 280V281M459.5 280V281M460.5 281V282M461.5 281V282M462.5 282V283M463.5 282V283M464.5 283V284M465.5 283V284M466.5 284V285M467.5 284V285M468.5 285V286M469.5 285V286M470.5 286V287M471.5 286V287M472.5 287V288M473.5 287V288M474.5 288V289M475.5 288V289M476.5 289V290M477.5 289V290M478.5 290V291M479.5 291V292M480.5 291V292M481.5 292V293M482.5 293V294M483.5 293V294M484.5 294V295M485.5 295V296M486.5 295V296M487.5 296V297M488.5 297V298M489.5 297V298M490.5 298V299M491.5 299V300M492.5 299V300M493.5 300V301M494.5 301V302M495.5 301V302M496.5 302V303M497.5 302V303M498.5 303V304M499.5 304V305M500.5 304V305M501.5 305V306M502.5 305V306M503.5 306V307M504.5 307V308M505.5 307V308M506.5 308V309M507.5 308V309M508.5 309V310M509.5 309V310M510.5 310V311M511.5 311V312M512.5 311V312M513.5 312V313M514.5 312V313M515.5 313V314M516.5 313V314M517.5 314V315M518.5 315V316M519.5 315V316M520.5 316V317M521.5 316V317M522.5 317V318M523.5 317V318M524.5 318V319M525.5 319V320M526.5 319V320M527.5 320V321M528.5 320V321M529.5 321V322M530.5 321V322M531.5 322V323M532.5 322V323M533.5 323V324M534.5 324V325M535.5 324V325M536.5 325V326M537.5 325V326M538.5 326V327M539.5 326V327M540.5 327V328M541.5 328V329M542.5 328V329M543.5 329V330M544.5 329V330M545.5 330V331M546.5 331V332M547.5 331V332M548.5 332V333M549.5 333V334M550.5 333V334M551.5 334V335M552.5 335V336M553.5 335V336M554.5 336V337M555.5 336V337M556.5 337V338M557.5 337V338M558.5 338V339M559.5 338V339M560.5 338V339M561.5 339V340M562.5 339V340M563.5 340V341M564.5 340V341M565.5 341V342M566.5 341V342M567.5 342V343M568.5 342V343M569.5 343V344M570.5 343V344M571.5 344V345M572.5 344V345M573.5 344V345M574.5 345V346M575.5 345V346M576.5 346V347M577.5 346V347M578.5 347V348M579.5 347V348M580.5 348V349M581.5 348V349M582.5 349V350M583.5 349V350M584.5 350V351M585.5 350V351M586.5 350V351M587.5 351V352M588.5 351V352M589.5 352V353M590.5 352V353M591.5 353V354M592.5 353V354M593.5 354V355M594.5 354V355M595.5 355V356M596.5 355V356M597.5 356V357M598.5 356V357M599.5 356V357M600.5 357V358M601.5 357V358M602.5 358V359M603.5 358V359M604.5 359V360M605.5 359V360M606.5 360V361M607.5 360V361M608.5 361V362M609.5 361V362M610.5 362V363M611.5 362V363M612.5 362V363M613.5 363V364M614.5 363V364M615.5 364V365M616.5 364V365M617.5 365V366M618.5 365V366M619.5 365V366M620.5 365V366M621.5 366V367M622.5 366V367M623.5 366V367M624.5 366V367M625.5 367V368M626.5 367V368M627.5 367V368M628.5 367V368M629.5 367V368M630.5 368V369M631.5 368V369M632.5 368V369M633.5 368V369M634.5 369V370M635.5 369V370M636.5 369V370M637.5 369V370M638.5 369V370M639.5 369V370M640.5 369V370M641.5 370V371M642.5 370V371M643.5 370V371M644.5 370V371M645.5 370V371M646.5 370V371M647.5 370V371M648.5 370V371M649.5 370V371M650.5 370V371M651.5 371V372M652.5 371V372M653.5 371V372M654.5 371V372M655.5 371V372M656.5 371V372M657.5 371V372M658.5 371V372M659.5 371V372M660.5 372V373M661.5 372V373M662.5 372V373M663.5 372V373M664.5 372V373M665.5 372V373M666.5 372V373M667.5 372V373M668.5 372V373M669.5 373V374M670.5 373V374M671.5 373V374M672.5 373V374M673.5 373V374M674.5 373V374M675.5 373V374M676.5 373V374M677.5 373V374M678.5 373V374M679.5 374V375M680.5 374V375M681.5 374V375M682.5 374V375M683.5 374V375M684.5 374V375M685.5 374V375M686.5 374V375M687.5 374V375M688.5 375V376M689.5 375V376M690.5 375V376M691.5 375V376M692.5 375V376M693.5 375V376M694.5 375V376M695.5 375V376M696.5 375V376M697.5 375V376M698.5 375V376M699.5 375V376M700.5 375V376M701.5 375V376M702.5 375V376M703.5 375V376M704.5 375V376M705.5 375V376M706.5 375V376M707.5 375V376M708.5 374V375M709.5 374V375M710.5 374V375M711.5 374V375M712.5 374V375M713.5 374V375M714.5 373V374M715.5 373V374M716.5 373V374M717.5 373V374M718.5 373V374M719.5 373V374M720.5 372V373M721.5 372V373M722.5 372V373M723.5 372V373M724.5 372V373M725.5 372V373M726.5 371V372M727.5 371V372M728.5 371V372M729.5 371V372M730.5 371V372M731.5 370V371M732.5 370V371M733.5 370V371M734.5 370V371M735.5 369V370M736.5 369V370M737.5 369V370M738.5 368V369M739.5 368V369M740.5 368V369M741.5 368V369M742.5 367V368M743.5 367V368M744.5 367V368M745.5 367V368M746.5 366V367M747.5 366V367M748.5 366V367M749.5 366V367M750.5 365V366M751.5 365V366M752.5 365V366M753.5 364V365M754.5 364V365M755.5 364V365M756.5 363V364M757.5 363V364M758.5 363V364M759.5 362V363M760.5 362V363M761.5 362V363M762.5 361V362M763.5 361V362M764.5 361V362M765.5 360V361M766.5 360V361M767.5 360V361M768.5 359V360M769.5 359V360M770.5 359V360M771.5 358V359M772.5 358V359M773.5 358V359M774.5 357V358M775.5 357V358M776.5 357V358M777.5 356V357M778.5 356V357M779.5 356V357M780.5 355V356M781.5 355V356M782.5 355V356M783.5 354V355M784.5 354V355M785.5 354V355M786.5 354V355M787.5 353V354M788.5 353V354M789.5 353V354M790.5 353V354M791.5 352V353M792.5 352V353M793.5 352V353M794.5 352V353M795.5 351V352M796.5 351V352M797.5 351V352M798.5 351V352M799.5 350V351M800.5 350V351M801.5 350V351M802.5 349V350M803.5 349V350M804.5 349V350M805.5 349V350M806.5 348V349M807.5 348V349M808.5 348V349M809.5 348V349M810.5 347V348M811.5 347V348M812.5 347V348M813.5 347V348M814.5 346V347M815.5 346V347M816.5 346V347M817.5 345V346M818.5 345V346M819.5 345V346M820.5 344V345M821.5 344V345M822.5 344V345M823.5 343V344M824.5 343V344M825.5 343V344M826.5 342V343M827.5 342V343M828.5 342V343M829.5 341V342M830.5 341V342M831.5 340V341M832.5 339V340M833.5 339V340M834.5 338V339M835.5 337V338M836.5 337V338M837.5 336V337M838.5 335V336M839.5 335V336M840.5 334V335M841.5 333V334M842.5 333V334M843.5 332V333M844.5 331V332M845.5 330V331M846.5 330V331M847.5 329V330M848.5 328V329M849.5 327V328M850.5 327V328M851.5 326V327M852.5 325V326M853.5 325V326M854.5 324V325M855.5 323V324M856.5 322V323M857.5 322V323M858.5 321V322M859.5 320V321M860.5 319V320M861.5 319V320M862.5 318V319M863.5 318V319M864.5 317V318M865.5 317V318M866.5 316V317M867.5 316V317M868.5 315V316M869.5 315V316M870.5 314V315M871.5 314V315M872.5 313V314M873.5 313V314M874.5 312V313M875.5 312V313M876.5 311V312M877.5 311V312M878.5 310V311M879.5 310V311M880.5 310V311M881.5 309V310M882.5 309V310M883.5 308V309M884.5 308V309M885.5 307V308M886.5 307V308M887.5 306V307M888.5 306V307M889.5 305V306M890.5 305V306M891.5 304V305M892.5 304V305M893.5 303V304M894.5 303V304M895.5 302V303M896.5 301V302M897.5 301V302M898.5 300V301M899.5 300V301M900.5 299V300M901.5 298V299M902.5 298V299M903.5 297V298M904.5 296V297M905.5 296V297M906.5 295V296M907.5 294V295M908.5 294V295M909.5 293V294M910.5 293V294M911.5 292V293M912.5 291V292M913.5 291V292M914.5 290V291M915.5 289V290M916.5 289V290M917.5 288V289M918.5 288V289M919.5 287V288M920.5 286V287M921.5 286V287M922.5 285V286M923.5 285V286M924.5 284V285M925.5 283V284M926.5 283V284M927.5 282V283M928.5 282V283M929.5 281V282M930.5 280V281M931.5 280V281M932.5 280V281M933.5 279V280M934.5 279V280M935.5 278V279M936.5 278V279M937.5 277V278M938.5 277V278M939.5 276V277M940.5 276V277M941.5 275V276M942.5 275V276M943.5 274V275M944.5 273V274M945.5 273V274M946.5 272V273M947.5 271V272M948.5 271V272M949.5 270V271M950.5 269V270M951.5 268V269M952.5 268V269M953.5 267V268M954.5 266V267M955.5 266V267M956.5 265V266M957.5 264V265M958.5 264V265M959.5 263V264M960.5 262V263M961.5 261V262M962.5 261V262M963.5 260V261M964.5 259V260M965.5 259V260M966.5 258V259M967.5 257V258M968.5 257V258M969.5 256V257M970.5 255V256M971.5 254V255M972.5 254V255M973.5 253V254M974.5 253V254M975.5 252V253M976.5 252V253M977.5 251V252M978.5 251V252M979.5 250V251M980.5 250V251M981.5 250V251M982.5 249V250M983.5 249V250M984.5 248V249M985.5 248V249M986.5 247V248M987.5 246V247M988.5 246V247M989.5 245V246M990.5 245V246M991.5 244V245M992.5 244V245M993.5 243V244M994.5 243V244M995.5 242V243M996.5 242V243M997.5 241V242M998.5 241V242M999.5 240V241M1000.5 240V241M1001.5 239V240M1002.5 239V240M1003.5 238V239M1004.5 238V239M1005.5 238V239M1006.5 237V238M1007.5 237V238M1008.5 236V237M1009.5 236V237M1010.5 235V236M1011.5 235V236M1012.5 235V236M1013.5 234V235M1014.5 234V235M1015.5 233V234M1016.5 233V234M1017.5 232V233M1018.5 232V233M1019.5 231V232M1020.5 231V232M1021.5 230V231M1022.5 230V231M1023.5 229V230M1024.5 229V230M1025.5 228V229M1026.5 228V229M1027.5 227V228M1028.5 227V228M1029.5 226V227M1030.5 226V227M1031.5 225V226M1032.5 225V226M1033.5 224V225M1034.5 224V225M1035.5 223V224M1036.5 223V224M1037.5 222V223M1038.5 222V223M1039.5 221V222M1040.5 221V222M1041.5 220V221M1042.5 220V221M1043.5 219V220M1044.5 219V220M1045.5 219V220M1046.5 218V219M1047.5 218V219M1048.5 218V219M1049.5 217V218M1050.5 217V218M1051.5 216V217M1052.5 216V217M1053.5 216V217M1054.5 215V216M1055.5 215V216M1056.5 215V216M1057.5 214V215M1058.5 214V215M1059.5 214V215M1060.5 213V214M1061.5 213V214M1062.5 213V214M1063.5 212V213M1064.5 212V213M1065.5 212V213M1066.5 211V212M1067.5 211V212M1068.5 210V211M1069.5 210V211M1070.5 209V210M1071.5 209V210M1072.5 208V209M1073.5 208V209M1074.5 207V208M1075.5 207V208M1076.5 206V207M1077.5 206V207M1078.5 205V206M1079.5 205V206M1080.5 204V205M1081.5 204V205M1082.5 203V204M1083.5 203V204M1084.5 202V203M1085.5 202V203M1086.5 201V202M1087.5 201V202M1088.5 200V201M1089.5 200V201M1090.5 199V200M1091.5 199V200M1092.5 198V199M1093.5 198V199M1094.5 197V198M1095.5 197V198M1096.5 197V198M1097.5 196V197M1098.5 196V197M1099.5 195V196M1100.5 195V196M1101.5 194V195M1102.5 194V195M1103.5 193V194M1104.5 193V194M1105.5 193V194M1106.5 192V193M1107.5 192V193M1108.5 191V192M1109.5 191V192M1110.5 190V191M1111.5 190V191M1112.5 189V190M1113.5 189V190M1114.5 189V190M1115.5 188V189M1116.5 188V189M1117.5 187V188M1118.5 187V188M1119.5 186V187M1120.5 186V187M1121.5 185V186M1122.5 185V186M1123.5 185V186M1124.5 184V185M1125.5 184V185M1126.5 183V184M1127.5 183V184M1128.5 183V184M1129.5 182V183M1130.5 182V183M1131.5 182V183M1132.5 181V182M1133.5 181V182M1134.5 180V181M1135.5 180V181M1136.5 180V181M1137.5 179V180M1138.5 179V180M1139.5 179V180M1140.5 178V179M1141.5 178V179M1142.5 177V178M1143.5 177V178M1144.5 177V178M1145.5 176V177M1146.5 176V177M1147.5 176V177M1148.5 175V176M1149.5 175V176M1150.5 175V176M1151.5 174V175M1152.5 174V175M1153.5 174V175M1154.5 173V174M1155.5 173V174M1156.5 173V174M1157.5 172V173M1158.5 172V173M1159.5 172V173M1160.5 172V173M1161.5 171V172M1162.5 171V172M1163.5 171V172M1164.5 171V172M1165.5 170V171M1166.5 170V171M1167.5 170V171M1168.5 169V170M1169.5 169V170M1170.5 169V170M1171.5 169V170M1172.5 168V169M1173.5 168V169M1174.5 168V169M1175.5 168V169M1176.5 167V168M1177.5 167V168M1178.5 167V168M1179.5 166V167M1180.5 166V167M1181.5 166V167M1182.5 166V167M1183.5 165V166M1184.5 165V166M1185.5 165V166M1186.5 164V165M1187.5 164V165M1188.5 164V165M1189.5 164V165M1190.5 163V164M1191.5 163V164M1192.5 163V164M1193.5 163V164M1194.5 163V164M1195.5 162V163M1196.5 162V163M1197.5 162V163M1198.5 162V163M1199.5 162V163M1200.5 161V162M1201.5 161V162M1202.5 161V162M1203.5 161V162M1204.5 161V162M1205.5 160V161M1206.5 160V161M1207.5 160V161M1208.5 160V161M1209.5 159V160M1210.5 159V160M1211.5 158V159M1212.5 158V159M1213.5 158V159M1214.5 157V158M1215.5 157V158M1216.5 156V157M1217.5 156V157M1218.5 155V156M1219.5 155V156M1220.5 155V156M1221.5 154V155M1222.5 154V155M1223.5 153V154M1224.5 153V154M1225.5 152V153M1226.5 152V153M1227.5 152V153M1228.5 151V152M1229.5 151V152M1230.5 150V151M1231.5 150V151M1232.5 149V150M1233.5 149V150M1234.5 149V150M1235.5 148V149M1236.5 148V149M1237.5 147V148M1238.5 147V148M1239.5 147V148M1240.5 146V147M1241.5 146V147M1242.5 145V146M1243.5 145V146M1244.5 144V145M1245.5 144V145M1246.5 144V145M1247.5 143V144M1248.5 143V144M1249.5 143V144M1250.5 143V144M1251.5 142V143M1252.5 142V143M1253.5 142V143M1254.5 141V142M1255.5 141V142M1256.5 141V142M1257.5 140V141M1258.5 140V141M1259.5 140V141M1260.5 140V141M1261.5 139V140M1262.5 139V140M1263.5 139V140M1264.5 138V139M1265.5 138V139M1266.5 138V139M1267.5 137V138M1268.5 137V138M1269.5 137V138M1270.5 136V137M1271.5 136V137M1272.5 136V137M1273.5 135V136M1274.5 135V136M1275.5 135V136M1276.5 134V135M1277.5 134V135M1278.5 134V135M1279.5 133V134M1280.5 133V134M1281.5 133V134M1282.5 132V133M1283.5 132V133M1284.5 132V133" fill="none" stroke="#ff00ff" stroke-width="1"/>
<path d="M5.5 138V139M6.5 138V139M7.5 139V140M8.5 139V140M9.5 139V140M10.5 140V141M11.5 140V141M12.5 140V141M13.5 140V141M14.5 141V142M15.5 141V142M16.5 141V142M17.5 142V143M18.5 142V143M19.5 142V143M20.5 142V143M21.5 143V144M22.5 143V144M23.5 144V145M24.5 144V145M25.5 145V146M26.5 145V146M27.5 146V147M28.5 146V147M29.5 146V147M30.5 147V148M31.5 147V148M32.5 148V149M33.5 148V149M34.5 148V149M35.5 149V150M36.5 149V150M37.5 149V150M38.5 150V151M39.5 150V151M40.5 150V151M41.5 151V152M42.5 151V152M43.5 151V152M44.5 151V152M45.5 152V153M46.5 152V153M47.5 152V153M48.5 152V153M49.5 152V153M50.5 153V154M51.5 153V154M52.5 153V154M53.5 153V154M54.5 153V154M55.5 152V153M56.5 152V153M57.5 152V153M58.5 152V153M59.5 152V153M60.5 152V153M61.5 152V153M62.5 151V152M63.5 151V152M64.5 151V152M65.5 151V152M66.5 151V152M67.5 150V151M68.5 150V151M69.5 150V151M70.5 150V151M71.5 150V151M72.5 150V151M73.5 150V151M74.5 149V150M75.5 149V150M76.5 149V150M77.5 149V150M78.5 149V150M79.5 149V150M80.5 149V150M81.5 148V149M82.5 148V149M83.5 148V149M84.5 148V149M85.5 148V149M86.5 148V149M87.5 148V149M88.5 148V149M89.5 148V149M90.5 148V149M91.5 148V149M92.5 148V149M93.5 147V148M94.5 147V148M95.5 147V148M96.5 147V148M97.5 147V148M98.5 147V148M99.5 147V148M100.5 147V148M101.5 147V148M102.5 147V148M103.5 147V148M104.5 147V148M105.5 147V148M106.5 147V148M107.5 147V148M108.5 147V148M109.5 147V148M110.5 147V148M111.5 147V148M112.5 147V148M113.5 147V148M114.5 147V148M115.5 147V148M116.5 147V148M117.5 147V148M118.5 147V148M119.5 147V148M120.5 147V148M121.5 147V148M122.5 147V148M123.5 147V148M124.5 147V148M125.5 147V148M126.5 147V148M127.5 147V148M128.5 147V148M129.5 147V148M130.5 147V148M131.5 147V148M132.5 148V149M133.5 148V149M134.5 148V149M135.5 148V149M136.5 147V148M137.5 147V148M138.5 147V148M139.5 147V148M140.5 147V148M141.5 147V148M142.5 147V148M143.5 148V149M144.5 148V149M145.5 148V149M146.5 148V149M147.5 148V149M148.5 148V149M149.5 148V149M150.5 149V150M151.5 149V150M152.5 149V150M153.5 150V151M154.5 150V151M155.5 151V152M156.5 151V152M157.5 152V153M158.5 152V153M159.5 153V154M160.5 153V154M161.5 154V155M162.5 154V155M163.5 155V156M164.5 155V156M165.5 156V157M166.5 156V157M167.5 156V157M168.5 157V158M169.5 157V158M170.5 157V158M171.5 158V159M172.5 158V159M173.5 158V159M174.5 159V160M175.5 159V160M176.5 159V160M177.5 160V161M178.5 160V161M179.5 160V161M180.5 161V162M181.5 161V162M182.5 161V162M183.5 162V163M184.5 162V163M185.5 162V163M186.5 163V164M187.5 163V164M188.5 164V165M189.5 164V165M190.5 165V166M191.5 165V166M192.5 166V167M193.5 166V167M194.5 167V168M195.5 167V168M196.5 168V169M197.5 169V170M198.5 169V170M199.5 170V171M200.5 171V172M201.5 171V172M202.5 172V173M203.5 173V174M204.5 174V175M205.5 175V176M206.5 176V177M207.5 177V178M208.5 178V179M209.5 179V180M210.5 180V181M211.5 181V182M212.5 182V183M213.5 183V184M214.5 184V185M215.5 185V186M216.5 186V187M217.5 187V188M218.5 188V189M219.5 189V190M220.5 190V191M221.5 191V192M222.5 192V193M223.5 193V194M224.5 194V195M225.5 195V196M226.5 196V197M227.5 197V198M228.5 198V199M229.5 199V200M230.5 200V201M231.5 201V202M232.5 202V203M233.5 203V204M234.5 204V205M235.5 205V206M236.5 205V206M237.5 206V207M238.5 207V208M239.5 208V209M240.5 209V210M241.5 209V210M242.5 210V211M243.5 211V212M244.5 212V213M245.5 213V214M246.5 213V214M247.5 214V215M248.5 215V216M249.5 216V217M250.5 217V218M251.5 217V218M252.5 218V219M253.5 219V220M254.5 220V221M255.5 221V222M256.5 222V223M257.5 222V223M258.5 223V224M259.5 224V225M260.5 225V226M261.5 226V227M262.5 227V228M263.5 228V229M264.5 229V230M265.5 229V230M266.5 230V231M267.5 231V232M268.5 232V233M269.5 233V234M270.5 234V235M271.5 235V236M272.5 236V237M273.5 237V238M274.5 238V239M275.5 239V240M276.5 240V241M277.5 241V242M278.5 242V243M279.5 243V244M280.5 244V245M281.5 245V246M282.5 246V247M283.5 247V248M284.5 248V249M285.5 249V250M286.5 250V251M287.5 251V252M288.5 252V253M289.5 253V254M290.5 254V255M291.5 255V256M292.5 256V257M293.5 257V258M294.5 258V259M295.5 259V260M296.5 260V261M297.5 261V262M298.5 262V264M299.5 264V265M300.5 265V266M301.5 266V267M302.5 267V269M303.5 269V270M304.5 270V271M305.5 271V272M306.5 272V273M307.5 273V275M308.5 275V276M309.5 276V277M310.5 277V278M311.5 278V280M312.5 280V281M313.5 281V282M314.5 282V283M315.5 283V284M316.5 284V285M317.5 285V286M318.5 286V288M319.5 288V289M320.5 289V290M321.5 290V291M322.5 291V292M323.5 292V293M324.5 293V294M325.5 294V295M326.5 295V297M327.5 297V298M328.5 298V299M329.5 299V300M330.5 299V300M331.5 300V301M332.5 301V302M333.5 301V302M334.5 302V303M335.5 303V304M336.5 304V305M337.5 305V306M338.5 306V307M339.5 307V308M340.5 308V309M341.5 309V310M342.5 310V311M343.5 311V312M344.5 312V313M345.5 313V314M346.5 314V315M347.5 315V316M348.5 316V317M349.5 317V318M350.5 318V319M351.5 319V320M352.5 320V321M353.5 321V322M354.5 322V323M355.5 323V324M356.5 324V325M357.5 325V326M358.5 326V327M359.5 326V327M360.5 327V328M361.5 327V328M362.5 327V328M363.5 328V329M364.5 328V329M365.5 329V330M366.5 329V330M367.5 329V330M368.5 330V331M369.5 330V331M370.5 331V332M371.5 331V332M372.5 331V332M373.5 332V333M374.5 332V333M375.5 333V334M376.5 333V334M377.5 333V334M378.5 334V335M379.5 334V335M380.5 335V336M381.5 335V336M382.5 336V337M383.5 337V338M384.5 337V338M385.5 338V339M386.5 338V339M387.5 339V340M388.5 339V340M389.5 340V342M390.5 342V343M391.5 343V344M392.5 344V345M393.5 345V347M394.5 347V348M395.5 348V349M396.5 349V350M397.5 350V351M398.5 351V353M399.5 353V354M400.5 354V355M401.5 355V356M402.5 356V357M403.5 357V359M404.5 359V360M405.5 360V361M406.5 361V362M407.5 362V364M408.5 364V365M409.5 365V366M410.5 366V367M411.5 367V369M412.5 369V370M413.5 370V371M414.5 371V372M415.5 372V374M416.5 374V375M417.5 375V376M418.5 376V378M419.5 378V379M420.5 379V380M421.5 380V381M422.5 381V382M423.5 382V383M424.5 382V383M425.5 383V384M426.5 384V385M427.5 384V385M428.5 385V386M429.5 385V386M430.5 385V386M431.5 385V386M432.5 386V387M433.5 386V387M434.5 386V387M435.5 386V387M436.5 386V387M437.5 386V387M438.5 386V387M439.5 386V387M440.5 386V387M441.5 386V387M442.5 386V387M443.5 386V387M444.5 387V388M445.5 387V388M446.5 387V388M447.5 387V388M448.5 387V388M449.5 387V388M450.5 387V388M451.5 388V389M452.5 388V389M453.5 388V389M454.5 388V389M455.5 389V390M456.5 389V390M457.5 389V390M458.5 389V390M459.5 389V390M460.5 390V391M461.5 390V391M462.5 390V391M463.5 390V391M464.5 391V392M465.5 391V392M466.5 391V392M467.5 391V392M468.5 392V393M469.5 392V393M470.5 392V393M471.5 392V393M472.5 393V394M473.5 393V394M474.5 393V394M475.5 393V394M476.5 394V395M477.5 394V395M478.5 394V395M479.5 394V395M480.5 395V396M481.5 395V396M482.5 395V396M483.5 395V396M484.5 396V397M485.5 396V397M486.5 396V397M487.5 397V398M488.5 397V398M489.5 396V397M490.5 395V396M491.5 395V396M492.5 395V396M493.5 395V396M494.5 395V396M495.5 395V396M496.5 395V396M497.5 395V396M498.5 395V396M499.5 395V396M500.5 396V397M501.5 396V397M502.5 396V397M503.5 396V397M504.5 396V397M505.5 396V397M506.5 396V397M507.5 396V397M508.5 396V397M509.5 396V397M510.5 396V397M511.5 396V397M512.5 397V398M513.5 397V398M514.5 397V398M515.5 397V398M516.5 397V398M517.5 397V398M518.5 398V399M519.5 398V399M520.5 398V399M521.5 398V399M522.5 398V399M523.5 399V400M524.5 399V400M525.5 399V400M526.5 399V400M527.5 400V401M528.5 400V401M529.5 400V401M530.5 400V401M531.5 401V402M532.5 401V402M533.5 401V402M534.5 401V402M535.5 402V403M536.5 402V403M537.5 402V403M538.5 403V404M539.5 403V404M540.5 403V404M541.5 404V405M542.5 404V405M543.5 404V405M544.5 405V406M545.5 405V406M546.5 405V406M547.5 405V406M548.5 405V406M549.5 405V406M550.5 405V406M551.5 405V406M552.5 405V406M553.5 405V406M554.5 405V406M555.5 405V406M556.5 405V406M557.5 405V406M558.5 404V405M559.5 403V404M560.5 403V404M561.5 402V403M562.5 401V402M563.5 400V401M564.5 400V401M565.5 399V400M566.5 398V399M567.5 398V399M568.5 397V398M569.5 396V397M570.5 395V396M571.5 395V396M572.5 394V395M573.5 393V394M574.5 393V394M575.5 392V393M576.5 391V392M577.5 390V391M578.5 390V391M579.5 389V390M580.5 389V390M581.5 388V389M582.5 387V388M583.5 387V388M584.5 386V387M585.5 386V387M586.5 385V386M587.5 384V385M588.5 384V385M589.5 384V385M590.5 384V385M591.5 384V385M592.5 384V385M593.5 384V385M594.5 384V385M595.5 384V385M596.5 384V385M597.5 384V385M598.5 384V385M599.5 384V385M600.5 385V386M601.5 385V386M602.5 386V387M603.5 386V387M604.5 387V388M605.5 387V388M606.5 388V389M607.5 388V389M608.5 389V390M609.5 389V390M610.5 390V391M611.5 390V391M612.5 391V392M613.5 391V392M614.5 392V393M615.5 392V393M616.5 391V392M617.5 391V392M618.5 391V392M619.5 391V392M620.5 391V392M621.5 390V391M622.5 390V391M623.5 390V391M624.5 390V391M625.5 390V391M626.5 389V390M627.5 389V390M628.5 389V390M629.5 389V390M630.5 389V390M631.5 388V389M632.5 388V389M633.5 388V389M634.5 388V389M635.5 388V389M636.5 387V388M637.5 387V388M638.5 387V388M639.5 387V388M640.5 387V388M641.5 386V387M642.5 386V387M643.5 386V387M644.5 386V387M645.5 386V387M646.5 385V386M647.5 385V386M648.5 385V386M649.5 385V386M650.5 385V386M651.5 384V385M652.5 384V385M653.5 384V385M654.5 384V385M655.5 383V384M656.5 383V384M657.5 383V384M658.5 382V383M659.5 382V383M660.5 381V382M661.5 381V382M662.5 381V382M663.5 380V381M664.5 380V381M665.5 379V380M666.5 379V380M667.5 378V379M668.5 378V379M669.5 378V379M670.5 377V378M671.5 377V378M672.5 376V377M673.5 376V377M674.5 376V377M675.5 375V376M676.5 375V376M677.5 374V375M678.5 374V375M679.5 373V374M680.5 373V374M681.5 372V373M682.5 372V373M683.5 371V372M684.5 370V371M685.5 370V371M686.5 369V370M687.5 368V369M688.5 368V369M689.5 367V368M690.5 366V367M691.5 366V367M692.5 365V366M693.5 364V365M694.5 364V365M695.5 363V364M696.5 362V363M697.5 361V362M698.5 361V362M699.5 360V361M700.5 359V360M701.5 359V360M702.5 358V359M703.5 357V358M704.5 356V357M705.5 355V356M706.5 354V355M707.5 354V355M708.5 353V354M709.5 352V353M710.5 351V352M711.5 351V352M712.5 350V351M713.5 349V350M714.5 348V349M715.5 347V348M716.5 347V348M717.5 346V347M718.5 345V346M719.5 344V345M720.5 344V345M721.5 343V344M722.5 342V343M723.5 342V343M724.5 341V342M725.5 340V341M726.5 340V341M727.5 339V340M728.5 338V339M729.5 337V338M730.5 337V338M731.5 336V337M732.5 335V336M733.5 334V335M734.5 333V334M735.5 332V333M736.5 332V333M737.5 331V332M738.5 330V331M739.5 329V330M740.5 328V329M741.5 327V328M742.5 327V328M743.5 326V327M744.5 325V326M745.5 324V325M746.5 323V324M747.5 322V323M748.5 322V323M749.5 321V322M750.5 320V321M751.5 319V320M752.5 318V319M753.5 317V318M754.5 317V318M755.5 316V317M756.5 315V316M757.5 314V315M758.5 313V314M759.5 312V313M760.5 311V312M761.5 310V311M762.5 309V310M763.5 308V309M764.5 307V308M765.5 306V307M766.5 304V306M767.5 303V304M768.5 302V303M769.5 301V302M770.5 300V301M771.5 299V300M772.5 298V299M773.5 298V299M774.5 297V298M775.5 296V297M776.5 295V296M777.5 294V295M778.5 293V294M779.5 292V293M780.5 291V292M781.5 290V291M782.5 290V291M783.5 289V290M784.5 289V290M785.5 288V289M786.5 288V289M787.5 288V289M788.5 287V288M789.5 287V288M790.5 286V287M791.5 286V287M792.5 286V287M793.5 285V286M794.5 285V286M795.5 284V285M796.5 284V285M797.5 283V284M798.5 283V284M799.5 282V283M800.5 282V283M801.5 281V282M802.5 281V282M803.5 280V281M804.5 279V280M805.5 279V280M806.5 278V279M807.5 277V278M808.5 276V277M809.5 275V276M810.5 274V275M811.5 273V274M812.5 272V273M813.5 271V272M814.5 270V271M815.5 269V270M816.5 268V269M817.5 267V268M818.5 266V267M819.5 265V266M820.5 265V266M821.5 264V265M822.5 263V264M823.5 263V264M824.5 262V263M825.5 261V262M826.5 260V261M827.5 260V261M828.5 259V260M829.5 258V259M830.5 258V259M831.5 257V258M832.5 256V257M833.5 256V257M834.5 255V256M835.5 254V255M836.5 254V255M837.5 253V254M838.5 252V253M839.5 251V252M840.5 251V252M841.5 250V251M842.5 249V250M843.5 249V250M844.5 248V249M845.5 247V248M846.5 246V247M847.5 246V247M848.5 245V246M849.5 244V245M850.5 244V245M851.5 243V244M852.5 242V243M853.5 242V243M854.5 241V242M855.5 240V241M856.5 239V240M857.5 239V240M858.5 238V239M859.5 237V238M860.5 237V238M861.5 236V237M862.5 235V236M863.5 234V235M864.5 234V235M865.5 233V234M866.5 232V233M867.5 231V232M868.5 230V231M869.5 229V230M870.5 228V229M871.5 228V229M872.5 227V228M873.5 226V227M874.5 225V226M875.5 224V225M876.5 223V224M877.5 222V223M878.5 222V223M879.5 221V222M880.5 220V221M881.5 219V220M882.5 218V219M883.5 217V218M884.5 216V217M885.5 215V216M886.5 214V215M887.5 213V214M888.5 213V214M889.5 212V213M890.5 211V212M891.5 211V212M892.5 210V211M893.5 210V211M894.5 209V210M895.5 208V209M896.5 208V209M897.5 207V208M898.5 206V207M899.5 206V207M900.5 205V206M901.5 204V205M902.5 204V205M903.5 203V204M904.5 202V203M905.5 201V202M906.5 201V202M907.5 200V201M908.5 199V200M909.5 199V200M910.5 198V199M911.5 197V198M912.5 196V197M913.5 196V197M914.5 195V196M915.5 194V195M916.5 194V195M917.5 193V194M918.5 192V193M919.5 191V192M920.5 191V192M921.5 190V191M922.5 189V190M923.5 188V189M924.5 187V188M925.5 186V187M926.5 186V187M927.5 185V186M928.5 185V186M929.5 184V185M930.5 184V185M931.5 183V184M932.5 182V183M933.5 182V183M934.5 181V182M935.5 181V182M936.5 180V181M937.5 180V181M938.5 179V180M939.5 179V180M940.5 178V179M941.5 178V179M942.5 177V178M943.5 176V177M944.5 175V176M945.5 174V175M946.5 174V175M947.5 173V174M948.5 172V173M949.5 171V172M950.5 170V171M951.5 169V170M952.5 168V169M953.5 168V169M954.5 167V168M955.5 166V167M956.5 165V166M957.5 164V165M958.5 163V164M959.5 163V164M960.5 162V163M961.5 161V162M962.5 160V161M963.5 160V161M964.5 159V160M965.5 159V160M966.5 158V159M967.5 158V159M968.5 157V158M969.5 156V157M970.5 156V157M971.5 155V156M972.5 155V156M973.5 154V155M974.5 153V154M975.5 153V154M976.5 152V153M977.5 152V153M978.5 151V152M979.5 151V152M980.5 150V151M981.5 149V150M982.5 149V150M983.5 148V149M984.5 148V149M985.5 148V149M986.5 147V148M987.5 147V148M988.5 146V147M989.5 146V147M990.5 146V147M991.5 145V146M992.5 145V146M993.5 145V146M994.5 144V145M995.5 144V145M996.5 143V144M997.5 143V144M998.5 143V144M999.5 142V143M1000.5 142V143M1001.5 142V143M1002.5 141V142M1003.5 141V142M1004.5 141V142M1005.5 141V142M1006.5 141V142M1007.5 140V141M1008.5 140V141M1009.5 140V141M1010.5 140V141M1011.5 140V141M1012.5 139V140M1013.5 139V140M1014.5 139V140M1015.5 139V140M1016.5 139V140M1017.5 139V140M1018.5 139V140M1019.5 139V140M1020.5 139V140M1021.5 139V140M1022.5 139V140M1023.5 139V140M1024.5 139V140M1025.5 139V140M1026.5 139V140M1027.5 139V140M1028.5 140V141M1029.5 140V141M1030.5 140V141M1031.5 140V141M1032.5 141V142M1033.5 141V142M1034.5 142V143M1035.5 142V143M1036.5 142V143M1037.5 143V144M1038.5 143V144M1039.5 144V145M1040.5 144V145M1041.5 144V145M1042.5 145V146M1043.5 145V146M1044.5 145V146M1045.5 146V147M1046.5 146V147M1047.5 147V148M1048.5 147V148M1049.5 147V148M1050.5 148V149M1051.5 148V149M1052.5 148V149M1053.5 149V150M1054.5 149V150M1055.5 149V150M1056.5 149V150M1057.5 149V150M1058.5 150V151M1059.5 150V151M1060.5 150V151M1061.5 150V151M1062.5 150V151M1063.5 151V152M1064.5 151V152M1065.5 151V152M1066.5 151V152M1067.5 151V152M1068.5 151V152M1069.5 152V153M1070.5 152V153M1071.5 152V153M1072.5 152V153M1073.5 152V153M1074.5 153V154M1075.5 153V154M1076.5 153V154M1077.5 153V154M1078.5 153V154M1079.5 154V155M1080.5 154V155M1081.5 154V155M1082.5 154V155M1083.5 154V155M1084.5 154V155M1085.5 155V156M1086.5 155V156M1087.5 155V156M1088.5 155V156M1089.5 155V156M1090.5 155V156M1091.5 155V156M1092.5 155V156M1093.5 155V156M1094.5 155V156M1095.5 155V156M1096.5 155V156M1097.5 155V156M1098.5 156V157M1099.5 156V157M1100.5 156V157M1101.5 156V157M1102.5 156V157M1103.5 156V157M1104.5 156V157M1105.5 156V157M1106.5 157V158M1107.5 157V158M1108.5 157V158M1109.5 157V158M1110.5 158V159M1111.5 158V159M1112.5 158V159M1113.5 158V159M1114.5 159V160M1115.5 159V160M1116.5 159V160M1117.5 159V160M1118.5 159V160M1119.5 160V161M1120.5 160V161M1121.5 160V161M1122.5 160V161M1123.5 161V162M1124.5 161V162M1125.5 161V162M1126.5 161V162M1127.5 161V162M1128.5 161V162M1129.5 160V161M1130.5 160V161M1131.5 160V161M1132.5 160V161M1133.5 160V161M1134.5 160V161M1135.5 160V161M1136.5 160V161M1137.5 160V161M1138.5 160V161M1139.5 159V160M1140.5 159V160M1141.5 159V160M1142.5 159V160M1143.5 159V160M1144.5 159V160M1145.5 159V160M1146.5 159V160M1147.5 159V160M1148.5 159V160M1149.5 159V160M1150.5 159V160M1151.5 159V160M1152.5 158V159M1153.5 158V159M1154.5 158V159M1155.5 158V159M1156.5 158V159M1157.5 158V159M1158.5 158V159M1159.5 158V159M1160.5 158V159M1161.5 157V158M1162.5 157V158M1163.5 157V158M1164.5 157V158M1165.5 157V158M1166.5 157V158M1167.5 156V157M1168.5 156V157M1169.5 156V157M1170.5 156V157M1171.5 156V157M1172.5 155V156M1173.5 155V156M1174.5 155V156M1175.5 155V156M1176.5 154V155M1177.5 154V155M1178.5 154V155M1179.5 154V155M1180.5 153V154M1181.5 153V154M1182.5 153V154M1183.5 152V153M1184.5 152V153M1185.5 152V153M1186.5 152V153M1187.5 151V152M1188.5 151V152M1189.5 151V152M1190.5 150V151M1191.5 150V151M1192.5 149V150M1193.5 149V150M1194.5 148V149M1195.5 148V149M1196.5 147V148M1197.5 147V148M1198.5 146V147M1199.5 146V147M1200.5 145V146M1201.5 145V146M1202.5 144V145M1203.5 144V145M1204.5 143V144M1205.5 143V144M1206.5 142V143M1207.5 142V143M1208.5 141V142M1209.5 140V141M1210.5 140V141M1211.5 139V140M1212.5 138V139M1213.5 138V139M1214.5 137V138M1215.5 136V137M1216.5 136V137M1217.5 135V136M1218.5 134V135M1219.5 133V134M1220.5 133V134M1221.5 132V133M1222.5 131V132M1223.5 131V132M1224.5 130V131M1225.5 129V130M1226.5 129V130M1227.5 128V129M1228.5 128V129M1229.5 127V128M1230.5 127V128M1231.5 126V127M1232.5 126V127M1233.5 125V126M1234.5 125V126M1235.5 124V125M1236.5 124V125M1237.5 123V124M1238.5 123V124M1239.5 122V123M1240.5 122V123M1241.5 121V122M1242.5 121V122M1243.5 120V121M1244.5 120V121M1245.5 119V120M1246.5 119V120M1247.5 118V119M1248.5 118V119M1249.5 118V119M1250.5 117V118M1251.5 117V118M1252.5 116V117M1253.5 116V117M1254.5 116V117M1255.5 115V116M1256.5 115V116M1257.5 114V115M1258.5 114V115M1259.5 114V115M1260.5 113V114M1261.5 113V114M1262.5 112V113M1263.5 112V113M1264.5 112V113M1265.5 111V112M1266.5 111V112M1267.5 110V111M1268.5 110V111M1269.5 109V110M1270.5 109V110M1271.5 109V110M1272.5 108V109M1273.5 108V109M1274.5 107V108M1275.5 107V108M1276.5 107V108M1277.5 106V107M1278.5 106V107M1279.5 105V106M1280.5 105V106M1281.5 104V105M1282.5 104V105M1283.5 104V105M1284.5 103V104" fill="none" stroke="#ff4500" stroke-width="1"/>
<rect x="5" y="137" width="1" height="33" fill="#32cd32"/>
<rect x="3" y="137" width="5" height="29" fill="#32cd32"/>
<rect x="13" y="160" width="1" height="6" fill="#ff4500"/>
<rect x="11" y="162" width="5" height="4" fill="#ff4500"/>
<rect x="21" y="149" width="1" height="12" fill="#ff4500"/>
<rect x="19" y="155" width="5" height="6" fill="#ff4500"/>
<rect x="29" y="151" width="1" height="20" fill="#32cd32"/>
<rect x="27" y="155" width="5" height="6" fill="#32cd32"/>
<rect x="37" y="149" width="1" height="44" fill="#32cd32"/>
<rect x="35" y="159" width="5" height="25" fill="#32cd32"/>
<rect x="45" y="139" width="1" height="46" fill="#ff4500"/>
<rect x="43" y="142" width="5" height="43" fill="#ff4500"/>
<rect x="53" y="120" width="1" height="28" fill="#ff4500"/>
<rect x="51" y="120" width="5" height="23" fill="#ff4500"/>
<rect x="69" y="120" width="1" height="18" fill="#32cd32"/>
<rect x="67" y="120" width="5" height="5" fill="#32cd32"/>
<rect x="77" y="120" width="1" height="23" fill="#32cd32"/>
<rect x="75" y="125" width="5" height="14" fill="#32cd32"/>
<rect x="85" y="120" width="1" height="23" fill="#ff4500"/>
<rect x="83" y="125" width="5" height="14" fill="#ff4500"/>
<rect x="93" y="120" width="1" height="49" fill="#32cd32"/>
<rect x="91" y="120" width="5" height="48" fill="#32cd32"/>
<rect x="101" y="154" width="1" height="19" fill="#ff4500"/>
<rect x="99" y="164" width="5" height="4" fill="#ff4500"/>
<rect x="109" y="159" width="1" height="6" fill="#ff4500"/>
<rect x="107" y="159" width="5" height="6" fill="#ff4500"/>
<rect x="117" y="156" width="1" height="6" fill="#ff4500"/>
<rect x="115" y="158" width="5" height="4" fill="#ff4500"/>
<rect x="125" y="152" width="1" height="15" fill="#32cd32"/>
<rect x="123" y="158" width="5" height="2" fill="#32cd32"/>
<rect x="133" y="154" width="1" height="11" fill="#32cd32"/>
<rect x="131" y="158" width="5" height="3" fill="#32cd32"/>
<rect x="141" y="120" width="1" height="46" fill="#ff4500"/>
<rect x="139" y="120" width="5" height="40" fill="#ff4500"/>
<rect x="149" y="120" width="1" height="58" fill="#32cd32"/>
<rect x="147" y="120" width="5" height="41" fill="#32cd32"/>
<rect x="157" y="154" width="1" height="56" fill="#32cd32"/>
<rect x="155" y="159" width="5" height="43" fill="#32cd32"/>
<rect x="165" y="200" width="1" height="17" fill="#32cd32"/>
<rect x="163" y="202" width="5" height="14" fill="#32cd32"/>
<rect x="173" y="196" width="1" height="17" fill="#32cd32"/>
<rect x="171" y="206" width="5" height="6" fill="#32cd32"/>
<rect x="181" y="209" width="1" height="23" fill="#32cd32"/>
<rect x="179" y="212" width="5" height="12" fill="#32cd32"/>
<rect x="189" y="224" width="1" height="42" fill="#32cd32"/>
<rect x="187" y="224" width="5" height="5" fill="#32cd32"/>
<rect x="197" y="202" width="1" height="76" fill="#32cd32"/>
<rect x="195" y="228" width="5" height="40" fill="#32cd32"/>
<rect x="205" y="256" width="1" height="56" fill="#32cd32"/>
<rect x="203" y="268" width="5" height="35" fill="#32cd32"/>
<rect x="213" y="293" width="1" height="19" fill="#32cd32"/>
<rect x="211" y="301" width="5" height="5" fill="#32cd32"/>
<rect x="221" y="279" width="1" height="19" fill="#32cd32"/>
<rect x="219" y="290" width="5" height="2" fill="#32cd32"/>
<rect x="229" y="281" width="1" height="17" fill="#32cd32"/>
<rect x="227" y="290" width="5" height="2" fill="#32cd32"/>
<rect x="237" y="272" width="1" height="35" fill="#ff4500"/>
<rect x="235" y="289" width="5" height="4" fill="#ff4500"/>
<rect x="245" y="235" width="1" height="69" fill="#ff4500"/>
<rect x="243" y="254" width="5" height="36" fill="#ff4500"/>
<rect x="253" y="248" width="1" height="54" fill="#32cd32"/>
<rect x="251" y="254" width="5" height="32" fill="#32cd32"/>
<rect x="261" y="285" width="1" height="10" fill="#32cd32"/>
<rect x="259" y="286" width="5" height="6" fill="#32cd32"/>
<rect x="269" y="282" width="1" height="23" fill="#32cd32"/>
<rect x="267" y="290" width="5" height="12" fill="#32cd32"/>
<rect x="277" y="290" width="1" height="42" fill="#32cd32"/>
<rect x="275" y="302" width="5" height="27" fill="#32cd32"/>
<rect x="285" y="311" width="1" height="44" fill="#ff4500"/>
<rect x="283" y="322" width="5" height="9" fill="#ff4500"/>
<rect x="293" y="297" width="1" height="61" fill="#32cd32"/>
<rect x="291" y="320" width="5" height="19" fill="#32cd32"/>
<rect x="301" y="327" width="1" height="41" fill="#32cd32"/>
<rect x="299" y="339" width="5" height="25" fill="#32cd32"/>
<rect x="309" y="322" width="1" height="30" fill="#32cd32"/>
<rect x="307" y="334" width="5" height="9" fill="#32cd32"/>
<rect x="317" y="333" width="1" height="24" fill="#32cd32"/>
<rect x="315" y="343" width="5" height="13" fill="#32cd32"/>
<rect x="325" y="346" width="1" height="64" fill="#32cd32"/>
<rect x="323" y="356" width="5" height="45" fill="#32cd32"/>
<rect x="333" y="359" width="1" height="48" fill="#ff4500"/>
<rect x="331" y="365" width="5" height="34" fill="#ff4500"/>
<rect x="341" y="355" width="1" height="36" fill="#32cd32"/>
<rect x="339" y="366" width="5" height="19" fill="#32cd32"/>
<rect x="357" y="374" width="1" height="14" fill="#ff4500"/>
<rect x="355" y="381" width="5" height="7" fill="#ff4500"/>
<rect x="365" y="346" width="1" height="42" fill="#ff4500"/>
<rect x="363" y="358" width="5" height="23" fill="#ff4500"/>
<rect x="373" y="351" width="1" height="23" fill="#32cd32"/>
<rect x="371" y="357" width="5" height="9" fill="#32cd32"/>
<rect x="381" y="361" width="1" height="23" fill="#32cd32"/>
<rect x="379" y="365" width="5" height="8" fill="#32cd32"/>
<rect x="389" y="369" width="1" height="39" fill="#32cd32"/>
<rect x="387" y="371" width="5" height="35" fill="#32cd32"/>
<rect x="397" y="403" width="1" height="91" fill="#32cd32"/>
<rect x="395" y="405" width="5" height="88" fill="#32cd32"/>
<rect x="405" y="472" width="1" height="35" fill="#32cd32"/>
<rect x="403" y="478" width="5" height="15" fill="#32cd32"/>
<rect x="413" y="488" width="1" height="16" fill="#ff4500"/>
<rect x="411" y="490" width="5" height="2" fill="#ff4500"/>
<rect x="421" y="461" width="1" height="30" fill="#ff4500"/>
<rect x="419" y="474" width="5" height="16" fill="#ff4500"/>
<rect x="429" y="394" width="1" height="100" fill="#ff4500"/>
<rect x="427" y="395" width="5" height="80" fill="#ff4500"/>
<rect x="437" y="322" width="1" height="77" fill="#ff4500"/>
<rect x="435" y="323" width="5" height="72" fill="#ff4500"/>
<rect x="445" y="322" width="1" height="17" fill="#32cd32"/>
<rect x="443" y="323" width="5" height="14" fill="#32cd32"/>
<rect x="453" y="345" width="1" height="27" fill="#32cd32"/>
<rect x="451" y="345" width="5" height="5" fill="#32cd32"/>
<rect x="461" y="344" width="1" height="38" fill="#32cd32"/>
<rect x="459" y="348" width="5" height="31" fill="#32cd32"/>
<rect x="469" y="371" width="1" height="38" fill="#32cd32"/>
<rect x="467" y="378" width="5" height="11" fill="#32cd32"/>
<rect x="477" y="368" width="1" height="39" fill="#32cd32"/>
<rect x="475" y="387" width="5" height="11" fill="#32cd32"/>
<rect x="485" y="384" width="1" height="45" fill="#ff4500"/>
<rect x="483" y="384" width="5" height="14" fill="#ff4500"/>
<rect x="493" y="380" width="1" height="24" fill="#32cd32"/>
<rect x="491" y="385" width="5" height="10" fill="#32cd32"/>
<rect x="501" y="362" width="1" height="34" fill="#32cd32"/>
<rect x="499" y="380" width="5" height="6" fill="#32cd32"/>
<rect x="509" y="372" width="1" height="20" fill="#ff4500"/>
<rect x="507" y="382" width="5" height="4" fill="#ff4500"/>
<rect x="517" y="378" width="1" height="68" fill="#32cd32"/>
<rect x="515" y="382" width="5" height="39" fill="#32cd32"/>
<rect x="525" y="394" width="1" height="48" fill="#ff4500"/>
<rect x="523" y="413" width="5" height="9" fill="#ff4500"/>
<rect x="533" y="397" width="1" height="20" fill="#ff4500"/>
<rect x="531" y="409" width="5" height="6" fill="#ff4500"/>
<rect x="541" y="408" width="1" height="9" fill="#32cd32"/>
<rect x="539" y="409" width="5" height="3" fill="#32cd32"/>
<rect x="549" y="394" width="1" height="27" fill="#ff4500"/>
<rect x="547" y="400" width="5" height="21" fill="#ff4500"/>
<rect x="557" y="382" width="1" height="23" fill="#ff4500"/>
<rect x="555" y="387" width="5" height="14" fill="#ff4500"/>
<rect x="565" y="361" width="1" height="27" fill="#ff4500"/>
<rect x="563" y="365" width="5" height="23" fill="#ff4500"/>
<rect x="573" y="357" width="1" height="29" fill="#ff4500"/>
<rect x="571" y="360" width="5" height="7" fill="#ff4500"/>
<rect x="581" y="348" width="1" height="76" fill="#32cd32"/>
<rect x="579" y="359" width="5" height="51" fill="#32cd32"/>
<rect x="589" y="366" width="1" height="58" fill="#ff4500"/>
<rect x="587" y="372" width="5" height="39" fill="#ff4500"/>
<rect x="597" y="363" width="1" height="45" fill="#32cd32"/>
<rect x="595" y="372" width="5" height="31" fill="#32cd32"/>
<rect x="605" y="399" width="1" height="30" fill="#32cd32"/>
<rect x="603" y="403" width="5" height="9" fill="#32cd32"/>
<rect x="613" y="394" width="1" height="23" fill="#ff4500"/>
<rect x="611" y="405" width="5" height="6" fill="#ff4500"/>
<rect x="621" y="289" width="1" height="127" fill="#ff4500"/>
<rect x="619" y="317" width="5" height="90" fill="#ff4500"/>
<rect x="629" y="302" width="1" height="53" fill="#32cd32"/>
<rect x="627" y="316" width="5" height="24" fill="#32cd32"/>
<rect x="637" y="339" width="1" height="17" fill="#32cd32"/>
<rect x="635" y="339" width="5" height="16" fill="#32cd32"/>
<rect x="645" y="347" width="1" height="29" fill="#ff4500"/>
<rect x="643" y="364" width="5" height="5" fill="#ff4500"/>
<rect x="653" y="358" width="1" height="22" fill="#ff4500"/>
<rect x="651" y="361" width="5" height="5" fill="#ff4500"/>
<rect x="661" y="319" width="1" height="46" fill="#ff4500"/>
<rect x="659" y="323" width="5" height="40" fill="#ff4500"/>
<rect x="669" y="298" width="1" height="66" fill="#32cd32"/>
<rect x="667" y="324" width="5" height="14" fill="#32cd32"/>
<rect x="677" y="306" width="1" height="33" fill="#ff4500"/>
<rect x="675" y="311" width="5" height="27" fill="#ff4500"/>
<rect x="685" y="307" width="1" height="20" fill="#32cd32"/>
<rect x="683" y="311" width="5" height="13" fill="#32cd32"/>
<rect x="693" y="302" width="1" height="29" fill="#ff4500"/>
<rect x="691" y="304" width="5" height="17" fill="#ff4500"/>
<rect x="701" y="266" width="1" height="44" fill="#ff4500"/>
<rect x="699" y="277" width="5" height="27" fill="#ff4500"/>
<rect x="709" y="256" width="1" height="28" fill="#ff4500"/>
<rect x="707" y="271" width="5" height="8" fill="#ff4500"/>
<rect x="717" y="228" width="1" height="58" fill="#ff4500"/>
<rect x="715" y="263" width="5" height="11" fill="#ff4500"/>
<rect x="725" y="260" width="1" height="21" fill="#ff4500"/>
<rect x="723" y="262" width="5" height="3" fill="#ff4500"/>
<rect x="733" y="258" width="1" height="8" fill="#ff4500"/>
<rect x="731" y="260" width="5" height="4" fill="#ff4500"/>
<rect x="741" y="245" width="1" height="21" fill="#ff4500"/>
<rect x="739" y="246" width="5" height="17" fill="#ff4500"/>
<rect x="749" y="237" width="1" height="22" fill="#32cd32"/>
<rect x="747" y="246" width="5" height="1" fill="#32cd32"/>
<rect x="757" y="233" width="1" height="17" fill="#ff4500"/>
<rect x="755" y="235" width="5" height="12" fill="#ff4500"/>
<rect x="765" y="208" width="1" height="30" fill="#ff4500"/>
<rect x="763" y="223" width="5" height="14" fill="#ff4500"/>
<rect x="773" y="206" width="1" height="40" fill="#ff4500"/>
<rect x="771" y="210" width="5" height="14" fill="#ff4500"/>
<rect x="781" y="208" width="1" height="56" fill="#32cd32"/>
<rect x="779" y="211" width="5" height="46" fill="#32cd32"/>
<rect x="789" y="250" width="1" height="10" fill="#ff4500"/>
<rect x="787" y="254" width="5" height="3" fill="#ff4500"/>
<rect x="797" y="241" width="1" height="28" fill="#32cd32"/>
<rect x="795" y="249" width="5" height="10" fill="#32cd32"/>
<rect x="805" y="250" width="1" height="16" fill="#ff4500"/>
<rect x="803" y="255" width="5" height="4" fill="#ff4500"/>
<rect x="813" y="222" width="1" height="36" fill="#ff4500"/>
<rect x="811" y="237" width="5" height="20" fill="#ff4500"/>
<rect x="821" y="214" width="1" height="32" fill="#ff4500"/>
<rect x="819" y="214" width="5" height="24" fill="#ff4500"/>
<rect x="829" y="208" width="1" height="29" fill="#32cd32"/>
<rect x="827" y="214" width="5" height="2" fill="#32cd32"/>
<rect x="837" y="211" width="1" height="12" fill="#32cd32"/>
<rect x="835" y="215" width="5" height="5" fill="#32cd32"/>
<rect x="845" y="184" width="1" height="18" fill="#ff4500"/>
<rect x="843" y="188" width="5" height="9" fill="#ff4500"/>
<rect x="853" y="183" width="1" height="19" fill="#32cd32"/>
<rect x="851" y="187" width="5" height="9" fill="#32cd32"/>
<rect x="861" y="167" width="1" height="36" fill="#ff4500"/>
<rect x="859" y="177" width="5" height="19" fill="#ff4500"/>
<rect x="869" y="115" width="1" height="69" fill="#ff4500"/>
<rect x="867" y="123" width="5" height="55" fill="#ff4500"/>
<rect x="877" y="111" width="1" height="29" fill="#ff4500"/>
<rect x="875" y="121" width="5" height="3" fill="#ff4500"/>
<rect x="885" y="120" width="1" height="6" fill="#32cd32"/>
<rect x="883" y="120" width="5" height="3" fill="#32cd32"/>
<rect x="893" y="129" width="1" height="19" fill="#32cd32"/>
<rect x="891" y="129" width="5" height="8" fill="#32cd32"/>
<rect x="901" y="135" width="1" height="18" fill="#32cd32"/>
<rect x="899" y="136" width="5" height="12" fill="#32cd32"/>
<rect x="909" y="121" width="1" height="34" fill="#ff4500"/>
<rect x="907" y="127" width="5" height="20" fill="#ff4500"/>
<rect x="917" y="103" width="1" height="44" fill="#ff4500"/>
<rect x="915" y="120" width="5" height="7" fill="#ff4500"/>
<rect x="925" y="105" width="1" height="28" fill="#ff4500"/>
<rect x="923" y="115" width="5" height="7" fill="#ff4500"/>
<rect x="933" y="114" width="1" height="16" fill="#32cd32"/>
<rect x="931" y="115" width="5" height="15" fill="#32cd32"/>
<rect x="941" y="114" width="1" height="20" fill="#ff4500"/>
<rect x="939" y="117" width="5" height="12" fill="#ff4500"/>
<rect x="949" y="92" width="1" height="28" fill="#ff4500"/>
<rect x="947" y="96" width="5" height="22" fill="#ff4500"/>
<rect x="957" y="83" width="1" height="34" fill="#32cd32"/>
<rect x="955" y="95" width="5" height="21" fill="#32cd32"/>
<rect x="965" y="115" width="1" height="52" fill="#32cd32"/>
<rect x="963" y="115" width="5" height="30" fill="#32cd32"/>
<rect x="973" y="139" width="1" height="27" fill="#32cd32"/>
<rect x="971" y="145" width="5" height="7" fill="#32cd32"/>
<rect x="981" y="148" width="1" height="7" fill="#32cd32"/>
<rect x="979" y="150" width="5" height="4" fill="#32cd32"/>
<rect x="989" y="133" width="1" height="18" fill="#ff4500"/>
<rect x="987" y="142" width="5" height="9" fill="#ff4500"/>
<rect x="997" y="138" width="1" height="44" fill="#32cd32"/>
<rect x="995" y="142" width="5" height="31" fill="#32cd32"/>
<rect x="1005" y="171" width="1" height="14" fill="#32cd32"/>
<rect x="1003" y="172" width="5" height="6" fill="#32cd32"/>
<rect x="1013" y="164" width="1" height="31" fill="#ff4500"/>
<rect x="1011" y="173" width="5" height="4" fill="#ff4500"/>
<rect x="1021" y="151" width="1" height="33" fill="#ff4500"/>
<rect x="1019" y="158" width="5" height="16" fill="#ff4500"/>
<rect x="1029" y="157" width="1" height="50" fill="#32cd32"/>
<rect x="1027" y="158" width="5" height="40" fill="#32cd32"/>
<rect x="1037" y="192" width="1" height="10" fill="#ff4500"/>
<rect x="1035" y="194" width="5" height="4" fill="#ff4500"/>
<rect x="1045" y="176" width="1" height="16" fill="#ff4500"/>
<rect x="1043" y="181" width="5" height="11" fill="#ff4500"/>
<rect x="1053" y="173" width="1" height="25" fill="#32cd32"/>
<rect x="1051" y="182" width="5" height="14" fill="#32cd32"/>
<rect x="1061" y="168" width="1" height="33" fill="#ff4500"/>
<rect x="1059" y="172" width="5" height="23" fill="#ff4500"/>
<rect x="1069" y="152" width="1" height="31" fill="#ff4500"/>
<rect x="1067" y="168" width="5" height="5" fill="#ff4500"/>
<rect x="1077" y="140" width="1" height="30" fill="#ff4500"/>
<rect x="1075" y="148" width="5" height="20" fill="#ff4500"/>
<rect x="1085" y="146" width="1" height="9" fill="#32cd32"/>
<rect x="1083" y="147" width="5" height="4" fill="#32cd32"/>
<rect x="1093" y="145" width="1" height="17" fill="#ff4500"/>
<rect x="1091" y="147" width="5" height="8" fill="#ff4500"/>
<rect x="1101" y="127" width="1" height="22" fill="#ff4500"/>
<rect x="1099" y="132" width="5" height="17" fill="#ff4500"/>
<rect x="1109" y="130" width="1" height="33" fill="#32cd32"/>
<rect x="1107" y="132" width="5" height="27" fill="#32cd32"/>
<rect x="1117" y="130" width="1" height="39" fill="#ff4500"/>
<rect x="1115" y="140" width="5" height="19" fill="#ff4500"/>
<rect x="1125" y="119" width="1" height="31" fill="#ff4500"/>
<rect x="1123" y="122" width="5" height="19" fill="#ff4500"/>
<rect x="1133" y="121" width="1" height="5" fill="#32cd32"/>
<rect x="1131" y="122" width="5" height="4" fill="#32cd32"/>
<rect x="1141" y="129" width="1" height="13" fill="#32cd32"/>
<rect x="1139" y="132" width="5" height="2" fill="#32cd32"/>
<rect x="1149" y="129" width="1" height="16" fill="#32cd32"/>
<rect x="1147" y="132" width="5" height="2" fill="#32cd32"/>
<rect x="1157" y="129" width="1" height="34" fill="#32cd32"/>
<rect x="1155" y="132" width="5" height="29" fill="#32cd32"/>
<rect x="1165" y="136" width="1" height="33" fill="#ff4500"/>
<rect x="1163" y="139" width="5" height="22" fill="#ff4500"/>
<rect x="1173" y="116" width="1" height="24" fill="#ff4500"/>
<rect x="1171" y="127" width="5" height="13" fill="#ff4500"/>
<rect x="1181" y="125" width="1" height="6" fill="#32cd32"/>
<rect x="1179" y="127" width="5" height="4" fill="#32cd32"/>
<rect x="1189" y="106" width="1" height="19" fill="#ff4500"/>
<rect x="1187" y="109" width="5" height="16" fill="#ff4500"/>
<rect x="1197" y="100" width="1" height="18" fill="#32cd32"/>
<rect x="1195" y="108" width="5" height="6" fill="#32cd32"/>
<rect x="1205" y="96" width="1" height="25" fill="#ff4500"/>
<rect x="1203" y="107" width="5" height="7" fill="#ff4500"/>
<rect x="1213" y="65" width="1" height="49" fill="#ff4500"/>
<rect x="1211" y="77" width="5" height="32" fill="#ff4500"/>
<rect x="1221" y="71" width="1" height="19" fill="#32cd32"/>
<rect x="1219" y="77" width="5" height="3" fill="#32cd32"/>
<rect x="1229" y="75" width="1" height="6" fill="#ff4500"/>
<rect x="1227" y="76" width="5" height="4" fill="#ff4500"/>
<rect x="1237" y="75" width="1" height="17" fill="#32cd32"/>
<rect x="1235" y="81" width="5" height="9" fill="#32cd32"/>
<rect x="1245" y="63" width="1" height="29" fill="#ff4500"/>
<rect x="1243" y="66" width="5" height="24" fill="#ff4500"/>
<rect x="1253" y="66" width="1" height="13" fill="#32cd32"/>
<rect x="1251" y="67" width="5" height="12" fill="#32cd32"/>
<rect x="1261" y="76" width="1" height="14" fill="#32cd32"/>
<rect x="1259" y="78" width="5" height="5" fill="#32cd32"/>
<rect x="1269" y="60" width="1" height="23" fill="#ff4500"/>
<rect x="1267" y="68" width="5" height="15" fill="#ff4500"/>
<rect x="1277" y="65" width="1" height="22" fill="#32cd32"/>
<rect x="1275" y="69" width="5" height="4" fill="#32cd32"/>
<rect x="1285" y="70" width="1" height="4" fill="#32cd32"/>
<rect x="1283" y="72" width="5" height="2" fill="#32cd32"/>
<rect x="347" y="384" width="5" height="1" fill="#000"/>
<rect x="349" y="382" width="1" height="5" fill="#000"/>
</g>
<rect x="1624" y="73" width="2" height="1" fill="#c0c0c0"/>
<rect x="4" y="128" width="2" height="6" fill="#00ff7f"/>
<rect x="1618" y="128" width="6" height="6" fill="#00ff7f"/>
<rect x="1620" y="130" width="2" height="2" fill="#fff"/>
<rect x="4" y="217" width="6" height="6" fill="#0000ff"/>
<rect x="6" y="219" width="2" height="2" fill="#fff"/>
<rect x="1618" y="217" width="6" height="6" fill="#0000ff"/>
<rect x="1620" y="219" width="2" height="2" fill="#fff"/>
<rect x="1625" y="58" width="2" height="1" fill="#000"/>
<rect x="1625" y="107" width="2" height="1" fill="#000"/>
<rect x="1625" y="156" width="2" height="1" fill="#000"/>
<rect x="1625" y="205" width="2" height="1" fill="#000"/>
<rect x="1625" y="254" width="2" height="1" fill="#000"/>
<rect x="1625" y="352" width="2" height="1" fill="#000"/>
<rect x="1625" y="401" width="2" height="1" fill="#000"/>
<rect x="1625" y="450" width="2" height="1" fill="#000"/>
<rect x="1626" y="39" width="49" height="14" fill="#ff0000"/>
<rect x="1626" y="66" width="49" height="14" fill="#000"/>
<rect x="1626" y="125" width="49" height="14" fill="#00ff7f"/>
<rect x="1626" y="214" width="49" height="14" fill="#0000ff"/>
<rect x="1626" y="297" width="49" height="14" fill="#0000ff"/>
<rect x="1626" y="414" width="49" height="14" fill="#ff0000"/>
<rect x="1626" y="490" width="49" height="14" fill="#0000ff"/>
<defs><linearGradient id="gb" x1="0" y1="0" x2="0" y2="1"><stop offset="0" stop-color="#fb5252"/><stop offset="1" stop-color="#e23434"/></linearGradient><linearGradient id="gp" x1="0" y1="0" x2="0" y2="1"><stop offset="0" stop-color="#e23636"/><stop offset="0.5" stop-color="#c81a1a"/><stop offset="1" stop-color="#ac0000"/></linearGradient><linearGradient id="gs" x1="0" y1="0" x2="0" y2="1"><stop offset="0" stop-color="#f2f2f2"/><stop offset="0.45" stop-color="#e4e4e4"/><stop offset="0.5" stop-color="#d4d4d4"/><stop offset="1" stop-color="#cfcfcf"/></linearGradient></defs>
<rect x="6" y="57" width="287" height="80" fill="#fff"/>
<rect x="8" y="59" width="68" height="28" fill="url(#gb)"/>
<rect x="8" y="59" width="68" height="1" fill="#c81414"/>
<rect x="8" y="59" width="1" height="28" fill="#c81414"/>
<rect x="75" y="59" width="1" height="27" fill="#c81414"/>
<rect x="223" y="59" width="68" height="28" fill="url(#gb)"/>
<rect x="223" y="59" width="68" height="1" fill="#c81414"/>
<rect x="223" y="59" width="1" height="27" fill="#c81414"/>
<rect x="290" y="59" width="1" height="28" fill="#c81414"/>
<rect x="8" y="86" width="141" height="49" fill="url(#gp)"/>
<rect x="151" y="86" width="140" height="49" fill="url(#gp)"/>
<rect x="8" y="86" width="1" height="49" fill="#b01010"/>
<rect x="148" y="86" width="1" height="49" fill="#b01010"/>
<rect x="151" y="86" width="1" height="49" fill="#b01010"/>
<rect x="290" y="86" width="1" height="49" fill="#b01010"/>
<rect x="76" y="86" width="72" height="1" fill="#c81414"/>
<rect x="151" y="86" width="72" height="1" fill="#c81414"/>
<rect x="12" y="85" width="60" height="1" fill="#a00000"/>
<rect x="227" y="85" width="60" height="1" fill="#a00000"/>
<rect x="12" y="86" width="60" height="1" fill="#ee5c5c"/>
<rect x="227" y="86" width="60" height="1" fill="#ee5c5c"/>
<rect x="78" y="59" width="144" height="25" fill="#fff"/>
<rect x="78.5" y="59.5" width="143" height="24" fill="none" stroke="#a9aebc"/>
<rect x="80" y="61" width="22" height="22" fill="url(#gs)"/>
<rect x="102" y="60" width="1" height="24" fill="#a9aebc"/>
<rect x="197" y="61" width="23" height="22" fill="url(#gs)"/>
<rect x="196" y="60" width="1" height="24" fill="#a9aebc"/>
<path d="M87 70 L94.4 70 L90.7 74 Z" fill="#4c5cb0" shape-rendering="auto"/><path d="M204.8 73 L212.2 73 L208.5 68.8 Z" fill="#5a6ab8" shape-rendering="auto"/>
<clipPath id="c2"><rect x="5" y="521" width="1619" height="59"/></clipPath><g clip-path="url(#c2)">
<rect x="5" y="548" width="1" height="2" fill="#c0c0c0"/>
<rect x="13" y="548" width="1" height="2" fill="#c0c0c0"/>
<rect x="21" y="548" width="1" height="2" fill="#c0c0c0"/>
<rect x="29" y="548" width="1" height="2" fill="#c0c0c0"/>
<rect x="37" y="548" width="1" height="1" fill="#c0c0c0"/>
<rect x="45" y="548" width="1" height="1" fill="#c0c0c0"/>
<rect x="53" y="548" width="1" height="1" fill="#c0c0c0"/>
<rect x="61" y="548" width="1" height="1" fill="#c0c0c0"/>
<rect x="69" y="548" width="1" height="1" fill="#c0c0c0"/>
<rect x="77" y="547" width="1" height="2" fill="#c0c0c0"/>
<rect x="85" y="547" width="1" height="2" fill="#c0c0c0"/>
<rect x="93" y="547" width="1" height="2" fill="#c0c0c0"/>
<rect x="101" y="547" width="1" height="2" fill="#c0c0c0"/>
<rect x="109" y="547" width="1" height="2" fill="#c0c0c0"/>
<rect x="117" y="547" width="1" height="2" fill="#c0c0c0"/>
<rect x="125" y="547" width="1" height="2" fill="#c0c0c0"/>
<rect x="133" y="547" width="1" height="2" fill="#c0c0c0"/>
<rect x="141" y="547" width="1" height="2" fill="#c0c0c0"/>
<rect x="149" y="547" width="1" height="2" fill="#c0c0c0"/>
<rect x="157" y="548" width="1" height="1" fill="#c0c0c0"/>
<rect x="165" y="548" width="1" height="5" fill="#c0c0c0"/>
<rect x="173" y="548" width="1" height="6" fill="#c0c0c0"/>
<rect x="181" y="548" width="1" height="8" fill="#c0c0c0"/>
<rect x="189" y="548" width="1" height="10" fill="#c0c0c0"/>
<rect x="197" y="548" width="1" height="12" fill="#c0c0c0"/>
<rect x="205" y="548" width="1" height="15" fill="#c0c0c0"/>
<rect x="213" y="548" width="1" height="17" fill="#c0c0c0"/>
<rect x="221" y="548" width="1" height="19" fill="#c0c0c0"/>
<rect x="229" y="548" width="1" height="20" fill="#c0c0c0"/>
<rect x="237" y="548" width="1" height="20" fill="#c0c0c0"/>
<rect x="245" y="548" width="1" height="19" fill="#c0c0c0"/>
<rect x="253" y="548" width="1" height="18" fill="#c0c0c0"/>
<rect x="261" y="548" width="1" height="18" fill="#c0c0c0"/>
<rect x="269" y="548" width="1" height="19" fill="#c0c0c0"/>
<rect x="277" y="548" width="1" height="19" fill="#c0c0c0"/>
<rect x="285" y="548" width="1" height="20" fill="#c0c0c0"/>
<rect x="293" y="548" width="1" height="21" fill="#c0c0c0"/>
<rect x="301" y="548" width="1" height="22" fill="#c0c0c0"/>
<rect x="309" y="548" width="1" height="22" fill="#c0c0c0"/>
<rect x="317" y="548" width="1" height="22" fill="#c0c0c0"/>
<rect x="325" y="548" width="1" height="24" fill="#c0c0c0"/>
<rect x="333" y="548" width="1" height="24" fill="#c0c0c0"/>
<rect x="341" y="548" width="1" height="24" fill="#c0c0c0"/>
<rect x="349" y="548" width="1" height="24" fill="#c0c0c0"/>
<rect x="357" y="548" width="1" height="23" fill="#c0c0c0"/>
<rect x="365" y="548" width="1" height="22" fill="#c0c0c0"/>
<rect x="373" y="548" width="1" height="21" fill="#c0c0c0"/>
<rect x="381" y="548" width="1" height="20" fill="#c0c0c0"/>
<rect x="389" y="548" width="1" height="20" fill="#c0c0c0"/>
<rect x="397" y="548" width="1" height="23" fill="#c0c0c0"/>
<rect x="405" y="548" width="1" height="26" fill="#c0c0c0"/>
<rect x="413" y="548" width="1" height="28" fill="#c0c0c0"/>
<rect x="421" y="548" width="1" height="29" fill="#c0c0c0"/>
<rect x="429" y="548" width="1" height="27" fill="#c0c0c0"/>
<rect x="437" y="548" width="1" height="21" fill="#c0c0c0"/>
<rect x="445" y="548" width="1" height="16" fill="#c0c0c0"/>
<rect x="453" y="548" width="1" height="13" fill="#c0c0c0"/>
<rect x="461" y="548" width="1" height="12" fill="#c0c0c0"/>
<rect x="469" y="548" width="1" height="11" fill="#c0c0c0"/>
<rect x="477" y="548" width="1" height="10" fill="#c0c0c0"/>
<rect x="485" y="548" width="1" height="10" fill="#c0c0c0"/>
<rect x="493" y="548" width="1" height="9" fill="#c0c0c0"/>
<rect x="501" y="548" width="1" height="8" fill="#c0c0c0"/>
<rect x="509" y="548" width="1" height="7" fill="#c0c0c0"/>
<rect x="517" y="548" width="1" height="8" fill="#c0c0c0"/>
<rect x="525" y="548" width="1" height="8" fill="#c0c0c0"/>
<rect x="533" y="548" width="1" height="8" fill="#c0c0c0"/>
<rect x="541" y="548" width="1" height="8" fill="#c0c0c0"/>
<rect x="549" y="548" width="1" height="8" fill="#c0c0c0"/>
<rect x="557" y="548" width="1" height="7" fill="#c0c0c0"/>
<rect x="565" y="548" width="1" height="5" fill="#c0c0c0"/>
<rect x="573" y="548" width="1" height="3" fill="#c0c0c0"/>
<rect x="581" y="548" width="1" height="3" fill="#c0c0c0"/>
<rect x="589" y="548" width="1" height="3" fill="#c0c0c0"/>
<rect x="597" y="548" width="1" height="3" fill="#c0c0c0"/>
<rect x="605" y="548" width="1" height="3" fill="#c0c0c0"/>
<rect x="613" y="548" width="1" height="4" fill="#c0c0c0"/>
<rect x="621" y="548" width="1" height="1" fill="#c0c0c0"/>
<rect x="629" y="547" width="1" height="2" fill="#c0c0c0"/>
<rect x="637" y="546" width="1" height="3" fill="#c0c0c0"/>
<rect x="645" y="546" width="1" height="3" fill="#c0c0c0"/>
<rect x="653" y="546" width="1" height="3" fill="#c0c0c0"/>
<rect x="661" y="544" width="1" height="5" fill="#c0c0c0"/>
<rect x="669" y="543" width="1" height="6" fill="#c0c0c0"/>
<rect x="677" y="542" width="1" height="7" fill="#c0c0c0"/>
<rect x="685" y="541" width="1" height="8" fill="#c0c0c0"/>
<rect x="693" y="540" width="1" height="9" fill="#c0c0c0"/>
<rect x="701" y="538" width="1" height="11" fill="#c0c0c0"/>
<rect x="709" y="536" width="1" height="13" fill="#c0c0c0"/>
<rect x="717" y="535" width="1" height="14" fill="#c0c0c0"/>
<rect x="725" y="534" width="1" height="15" fill="#c0c0c0"/>
<rect x="733" y="533" width="1" height="16" fill="#c0c0c0"/>
<rect x="741" y="532" width="1" height="17" fill="#c0c0c0"/>
<rect x="749" y="531" width="1" height="18" fill="#c0c0c0"/>
<rect x="757" y="531" width="1" height="18" fill="#c0c0c0"/>
<rect x="765" y="530" width="1" height="19" fill="#c0c0c0"/>
<rect x="773" y="529" width="1" height="20" fill="#c0c0c0"/>
<rect x="781" y="530" width="1" height="19" fill="#c0c0c0"/>
<rect x="789" y="531" width="1" height="18" fill="#c0c0c0"/>
<rect x="797" y="532" width="1" height="17" fill="#c0c0c0"/>
<rect x="805" y="533" width="1" height="16" fill="#c0c0c0"/>
<rect x="813" y="534" width="1" height="15" fill="#c0c0c0"/>
<rect x="821" y="533" width="1" height="16" fill="#c0c0c0"/>
<rect x="829" y="533" width="1" height="16" fill="#c0c0c0"/>
<rect x="837" y="533" width="1" height="16" fill="#c0c0c0"/>
<rect x="845" y="532" width="1" height="17" fill="#c0c0c0"/>
<rect x="853" y="532" width="1" height="17" fill="#c0c0c0"/>
<rect x="861" y="531" width="1" height="18" fill="#c0c0c0"/>
<rect x="869" y="529" width="1" height="20" fill="#c0c0c0"/>
<rect x="877" y="527" width="1" height="22" fill="#c0c0c0"/>
<rect x="885" y="525" width="1" height="24" fill="#c0c0c0"/>
<rect x="893" y="525" width="1" height="24" fill="#c0c0c0"/>
<rect x="901" y="526" width="1" height="23" fill="#c0c0c0"/>
<rect x="909" y="526" width="1" height="23" fill="#c0c0c0"/>
<rect x="917" y="526" width="1" height="23" fill="#c0c0c0"/>
<rect x="925" y="526" width="1" height="23" fill="#c0c0c0"/>
<rect x="933" y="526" width="1" height="23" fill="#c0c0c0"/>
<rect x="941" y="527" width="1" height="22" fill="#c0c0c0"/>
<rect x="949" y="526" width="1" height="23" fill="#c0c0c0"/>
<rect x="957" y="527" width="1" height="22" fill="#c0c0c0"/>
<rect x="965" y="529" width="1" height="20" fill="#c0c0c0"/>
<rect x="973" y="531" width="1" height="18" fill="#c0c0c0"/>
<rect x="981" y="533" width="1" height="16" fill="#c0c0c0"/>
<rect x="989" y="534" width="1" height="15" fill="#c0c0c0"/>
<rect x="997" y="536" width="1" height="13" fill="#c0c0c0"/>
<rect x="1005" y="539" width="1" height="10" fill="#c0c0c0"/>
<rect x="1013" y="541" width="1" height="8" fill="#c0c0c0"/>
<rect x="1021" y="542" width="1" height="7" fill="#c0c0c0"/>
<rect x="1029" y="544" width="1" height="5" fill="#c0c0c0"/>
<rect x="1037" y="546" width="1" height="3" fill="#c0c0c0"/>
<rect x="1045" y="546" width="1" height="3" fill="#c0c0c0"/>
<rect x="1053" y="548" width="1" height="1" fill="#c0c0c0"/>
<rect x="1061" y="548" width="1" height="1" fill="#c0c0c0"/>
<rect x="1069" y="548" width="1" height="1" fill="#c0c0c0"/>
<rect x="1077" y="547" width="1" height="2" fill="#c0c0c0"/>
<rect x="1085" y="546" width="1" height="3" fill="#c0c0c0"/>
<rect x="1093" y="546" width="1" height="3" fill="#c0c0c0"/>
<rect x="1101" y="545" width="1" height="4" fill="#c0c0c0"/>
<rect x="1109" y="546" width="1" height="3" fill="#c0c0c0"/>
<rect x="1117" y="546" width="1" height="3" fill="#c0c0c0"/>
<rect x="1125" y="544" width="1" height="5" fill="#c0c0c0"/>
<rect x="1133" y="543" width="1" height="6" fill="#c0c0c0"/>
<rect x="1141" y="543" width="1" height="6" fill="#c0c0c0"/>
<rect x="1149" y="543" width="1" height="6" fill="#c0c0c0"/>
<rect x="1157" y="544" width="1" height="5" fill="#c0c0c0"/>
<rect x="1165" y="544" width="1" height="5" fill="#c0c0c0"/>
<rect x="1173" y="544" width="1" height="5" fill="#c0c0c0"/>
<rect x="1181" y="544" width="1" height="5" fill="#c0c0c0"/>
<rect x="1189" y="543" width="1" height="6" fill="#c0c0c0"/>
<rect x="1197" y="542" width="1" height="7" fill="#c0c0c0"/>
<rect x="1205" y="542" width="1" height="7" fill="#c0c0c0"/>
<rect x="1213" y="540" width="1" height="9" fill="#c0c0c0"/>
<rect x="1221" y="539" width="1" height="10" fill="#c0c0c0"/>
<rect x="1229" y="538" width="1" height="11" fill="#c0c0c0"/>
<rect x="1237" y="538" width="1" height="11" fill="#c0c0c0"/>
<rect x="1245" y="537" width="1" height="12" fill="#c0c0c0"/>
<rect x="1253" y="537" width="1" height="12" fill="#c0c0c0"/>
<rect x="1261" y="537" width="1" height="12" fill="#c0c0c0"/>
<rect x="1269" y="537" width="1" height="12" fill="#c0c0c0"/>
<rect x="1277" y="537" width="1" height="12" fill="#c0c0c0"/>
<rect x="1285" y="537" width="1" height="12" fill="#c0c0c0"/>
<path d="M6.5 550V551M7.5 550V551M8.5 550V551M12.5 550V551M13.5 550V551M14.5 550V551M18.5 550V551M19.5 550V551M20.5 550V551M24.5 550V551M25.5 550V551M26.5 550V551M30.5 550V551M31.5 550V551M32.5 550V551M36.5 550V551M37.5 550V551M38.5 550V551M42.5 550V551M43.5 550V551M44.5 550V551M48.5 550V551M49.5 550V551M50.5 550V551M54.5 550V551M55.5 550V551M56.5 549V550M60.5 549V550M61.5 549V550M62.5 549V550M66.5 549V550M67.5 549V550M68.5 549V550M72.5 549V550M73.5 549V550M74.5 549V550M78.5 549V550M79.5 549V550M80.5 549V550M84.5 549V550M85.5 549V550M86.5 549V550M90.5 548V549M91.5 548V549M92.5 548V549M96.5 548V549M97.5 548V549M98.5 548V549M102.5 548V549M103.5 548V549M104.5 548V549M108.5 548V549M109.5 548V549M110.5 548V549M114.5 548V549M115.5 548V549M116.5 548V549M120.5 548V549M121.5 548V549M122.5 548V549M126.5 548V549M127.5 548V549M128.5 548V549M132.5 548V549M133.5 548V549M134.5 548V549M138.5 548V549M139.5 548V549M140.5 548V549M144.5 548V549M145.5 548V549M146.5 548V549M150.5 548V549M151.5 548V549M152.5 548V549M156.5 549V550M157.5 549V550M158.5 549V550M162.5 549V550M163.5 549V550M164.5 550V551M168.5 550V551M169.5 550V551M170.5 550V551M174.5 550V551M175.5 550V551M176.5 550V551M180.5 550V551M181.5 550V551M182.5 551V552M186.5 551V552M187.5 551V552M188.5 551V552M192.5 552V553M193.5 552V553M194.5 552V553M198.5 553V554M199.5 553V554M200.5 553V554M204.5 554V555M205.5 554V555M206.5 554V555M210.5 556V557M211.5 556V557M212.5 556V557M216.5 557V558M217.5 557V558M218.5 557V558M222.5 558V559M223.5 558V559M224.5 558V559M228.5 559V560M229.5 560V561M230.5 560V561M234.5 561V562M235.5 561V562M236.5 561V562M240.5 562V563M241.5 562V563M242.5 562V563M246.5 562V563M247.5 563V564M248.5 563V564M252.5 564V565M253.5 564V565M254.5 565V566M258.5 566V567M259.5 566V567M260.5 566V567M264.5 566V567M265.5 566V567M266.5 566V567M270.5 566V567M271.5 566V567M272.5 566V567M276.5 566V567M277.5 566V567M278.5 566V567M282.5 567V568M283.5 567V568M284.5 567V568M288.5 567V568M289.5 567V568M290.5 567V568M294.5 567V568M295.5 567V568M296.5 567V568M300.5 567V568M301.5 567V568M302.5 568V569M306.5 568V569M307.5 568V569M308.5 568V569M312.5 568V569M313.5 568V569M314.5 568V569M318.5 569V570M319.5 569V570M320.5 569V570M324.5 569V570M325.5 569V570M326.5 569V570M330.5 569V570M331.5 569V570M332.5 569V570M336.5 569V570M337.5 569V570M338.5 569V570M342.5 570V571M343.5 570V571M344.5 570V571M348.5 570V571M349.5 570V571M350.5 570V571M354.5 570V571M355.5 571V572M356.5 571V572M360.5 571V572M361.5 571V572M362.5 571V572M366.5 571V572M367.5 571V572M368.5 571V572M372.5 571V572M373.5 571V572M374.5 571V572M378.5 571V572M379.5 571V572M380.5 571V572M384.5 571V572M385.5 571V572M386.5 571V572M390.5 571V572M391.5 571V572M392.5 571V572M396.5 571V572M397.5 571V572M398.5 571V572M402.5 571V572M403.5 571V572M404.5 571V572M408.5 571V572M409.5 571V572M410.5 571V572M414.5 571V572M415.5 571V572M416.5 571V572M420.5 572V573M421.5 572V573M422.5 572V573M426.5 572V573M427.5 572V573M428.5 572V573M432.5 572V573M433.5 572V573M434.5 572V573M438.5 572V573M439.5 572V573M440.5 572V573M444.5 572V573M445.5 572V573M446.5 572V573M450.5 572V573M451.5 571V572M452.5 571V572M456.5 571V572M457.5 571V572M458.5 570V571M462.5 570V571M463.5 569V570M464.5 569V570M468.5 568V569M469.5 568V569M470.5 568V569M474.5 567V568M475.5 567V568M476.5 567V568M480.5 566V567M481.5 566V567M482.5 566V567M486.5 565V566M487.5 565V566M488.5 564V565M492.5 562V563M493.5 562V563M494.5 562V563M498.5 561V562M499.5 560V561M500.5 560V561M504.5 559V560M505.5 559V560M506.5 559V560M510.5 558V559M511.5 558V559M512.5 558V559M516.5 558V559M517.5 558V559M518.5 557V558M522.5 557V558M523.5 557V558M524.5 557V558M528.5 557V558M529.5 557V558M530.5 557V558M534.5 556V557M535.5 556V557M536.5 556V557M540.5 556V557M541.5 556V557M542.5 556V557M546.5 556V557M547.5 556V557M548.5 556V557M552.5 556V557M553.5 556V557M554.5 556V557M558.5 555V556M559.5 555V556M560.5 555V556M564.5 555V556M565.5 555V556M566.5 555V556M570.5 555V556M571.5 555V556M572.5 555V556M576.5 555V556M577.5 554V555M578.5 554V555M582.5 554V555M583.5 554V555M584.5 554V555M588.5 554V555M589.5 553V554M590.5 553V554M594.5 553V554M595.5 553V554M596.5 553V554M600.5 553V554M601.5 553V554M602.5 553V554M606.5 553V554M607.5 553V554M608.5 553V554M612.5 552V553M613.5 552V553M614.5 552V553M618.5 551V552M619.5 551V552M620.5 551V552M624.5 551V552M625.5 550V551M626.5 550V551M630.5 550V551M631.5 550V551M632.5 550V551M636.5 550V551M637.5 550V551M638.5 550V551M642.5 549V550M643.5 549V550M644.5 549V550M648.5 549V550M649.5 549V550M650.5 549V550M654.5 548V549M655.5 548V549M656.5 548V549M660.5 547V548M661.5 547V548M662.5 547V548M666.5 547V548M667.5 547V548M668.5 546V547M672.5 546V547M673.5 546V547M674.5 546V547M678.5 545V546M679.5 545V546M680.5 545V546M684.5 544V545M685.5 544V545M686.5 544V545M690.5 543V544M691.5 543V544M692.5 543V544M696.5 542V543M697.5 542V543M698.5 542V543M702.5 542V543M703.5 542V543M704.5 541V542M708.5 541V542M709.5 541V542M710.5 540V541M714.5 540V541M715.5 540V541M716.5 540V541M720.5 539V540M721.5 539V540M722.5 539V540M726.5 538V539M727.5 538V539M728.5 538V539M732.5 537V538M733.5 537V538M734.5 537V538M738.5 537V538M739.5 537V538M740.5 536V537M744.5 536V537M745.5 536V537M746.5 535V536M750.5 534V535M751.5 534V535M752.5 534V535M756.5 533V534M757.5 533V534M758.5 533V534M762.5 532V533M763.5 532V533M764.5 532V533M768.5 532V533M769.5 532V533M770.5 531V532M774.5 531V532M775.5 531V532M776.5 530V531M780.5 530V531M781.5 530V531M782.5 530V531M786.5 530V531M787.5 530V531M788.5 530V531M792.5 530V531M793.5 530V531M794.5 530V531M798.5 530V531M799.5 530V531M800.5 530V531M804.5 530V531M805.5 530V531M806.5 530V531M810.5 530V531M811.5 530V531M812.5 530V531M816.5 530V531M817.5 530V531M818.5 530V531M822.5 530V531M823.5 530V531M824.5 530V531M828.5 531V532M829.5 531V532M830.5 531V532M834.5 531V532M835.5 531V532M836.5 531V532M840.5 531V532M841.5 531V532M842.5 531V532M846.5 531V532M847.5 531V532M848.5 531V532M852.5 532V533M853.5 532V533M854.5 532V533M858.5 532V533M859.5 532V533M860.5 532V533M864.5 532V533M865.5 532V533M866.5 532V533M870.5 531V532M871.5 531V532M872.5 531V532M876.5 531V532M877.5 530V531M878.5 530V531M882.5 530V531M883.5 530V531M884.5 530V531M888.5 530V531M889.5 530V531M890.5 529V530M894.5 529V530M895.5 529V530M896.5 529V530M900.5 528V529M901.5 528V529M902.5 528V529M906.5 528V529M907.5 527V528M908.5 527V528M912.5 527V528M913.5 527V528M914.5 526V527M918.5 526V527M919.5 526V527M920.5 526V527M924.5 525V526M925.5 525V526M926.5 525V526M930.5 525V526M931.5 525V526M932.5 525V526M936.5 525V526M937.5 525V526M938.5 525V526M942.5 525V526M943.5 525V526M944.5 525V526M948.5 525V526M949.5 525V526M950.5 525V526M954.5 525V526M955.5 525V526M956.5 525V526M960.5 525V526M961.5 525V526M962.5 525V526M966.5 525V526M967.5 525V526M968.5 525V526M972.5 525V526M973.5 525V526M974.5 526V527M978.5 526V527M979.5 527V528M980.5 527V528M984.5 527V528M985.5 528V529M986.5 528V529M990.5 528V529M991.5 528V529M992.5 528V529M996.5 528V529M997.5 529V530M998.5 529V530M1002.5 529V530M1003.5 529V530M1004.5 530V531M1008.5 531V532M1009.5 531V532M1010.5 531V532M1014.5 532V533M1015.5 532V533M1016.5 532V533M1020.5 533V534M1021.5 534V535M1022.5 534V535M1026.5 535V536M1027.5 535V536M1028.5 535V536M1032.5 536V537M1033.5 536V537M1034.5 536V537M1038.5 537V538M1039.5 537V538M1040.5 537V538M1044.5 539V540M1045.5 539V540M1046.5 539V540M1050.5 540V541M1051.5 540V541M1052.5 540V541M1056.5 541V542M1057.5 541V542M1058.5 541V542M1062.5 542V543M1063.5 542V543M1064.5 542V543M1068.5 543V544M1069.5 543V544M1070.5 543V544M1074.5 544V545M1075.5 544V545M1076.5 544V545M1080.5 544V545M1081.5 544V545M1082.5 544V545M1086.5 545V546M1087.5 545V546M1088.5 545V546M1092.5 545V546M1093.5 545V546M1094.5 545V546M1098.5 546V547M1099.5 546V547M1100.5 546V547M1104.5 546V547M1105.5 546V547M1106.5 546V547M1110.5 546V547M1111.5 546V547M1112.5 546V547M1116.5 546V547M1117.5 546V547M1118.5 545V546M1122.5 545V546M1123.5 545V546M1124.5 545V546M1128.5 544V545M1129.5 544V545M1130.5 544V545M1134.5 544V545M1135.5 544V545M1136.5 544V545M1140.5 544V545M1141.5 544V545M1142.5 544V545M1146.5 543V544M1147.5 543V544M1148.5 543V544M1152.5 543V544M1153.5 543V544M1154.5 543V544M1158.5 543V544M1159.5 543V544M1160.5 543V544M1164.5 543V544M1165.5 543V544M1166.5 543V544M1170.5 543V544M1171.5 543V544M1172.5 543V544M1176.5 543V544M1177.5 543V544M1178.5 543V544M1182.5 543V544M1183.5 543V544M1184.5 543V544M1188.5 542V543M1189.5 542V543M1190.5 542V543M1194.5 542V543M1195.5 542V543M1196.5 542V543M1200.5 542V543M1201.5 542V543M1202.5 542V543M1206.5 542V543M1207.5 542V543M1208.5 542V543M1212.5 542V543M1213.5 542V543M1214.5 542V543M1218.5 541V542M1219.5 541V542M1220.5 541V542M1224.5 541V542M1225.5 541V542M1226.5 541V542M1230.5 541V542M1231.5 541V542M1232.5 541V542M1236.5 540V541M1237.5 540V541M1238.5 540V541M1242.5 539V540M1243.5 539V540M1244.5 539V540M1248.5 539V540M1249.5 539V540M1250.5 539V540M1254.5 539V540M1255.5 539V540M1256.5 539V540M1260.5 538V539M1261.5 538V539M1262.5 538V539M1266.5 537V538M1267.5 537V538M1268.5 537V538M1272.5 537V538M1273.5 537V538M1274.5 537V538M1278.5 537V538M1279.5 537V538M1280.5 537V538M1284.5 537V538" fill="none" stroke="#ff0000" stroke-width="1"/>
</g>
<rect x="1625" y="522" width="2" height="1" fill="#000"/>
<rect x="1625" y="548" width="2" height="1" fill="#000"/>
<rect x="1625" y="579" width="2" height="1" fill="#000"/>
<path d="M6 620.5h3M12 620.5h3M18 620.5h3M24 620.5h3M30 620.5h3M36 620.5h3M42 620.5h3M48 620.5h3M54 620.5h3M60 620.5h3M66 620.5h3M72 620.5h3M78 620.5h3M84 620.5h3M90 620.5h3M96 620.5h3M102 620.5h3M108 620.5h3M114 620.5h3M120 620.5h3M126 620.5h3M132 620.5h3M138 620.5h3M144 620.5h3M150 620.5h3M156 620.5h3M162 620.5h3M168 620.5h3M174 620.5h3M180 620.5h3M186 620.5h3M192 620.5h3M198 620.5h3M204 620.5h3M210 620.5h3M216 620.5h3M222 620.5h3M228 620.5h3M234 620.5h3M240 620.5h3M246 620.5h3M252 620.5h3M258 620.5h3M264 620.5h3M270 620.5h3M276 620.5h3M282 620.5h3M288 620.5h3M294 620.5h3M300 620.5h3M306 620.5h3M312 620.5h3M318 620.5h3M324 620.5h3M330 620.5h3M336 620.5h3M342 620.5h3M348 620.5h3M354 620.5h3M360 620.5h3M366 620.5h3M372 620.5h3M378 620.5h3M384 620.5h3M390 620.5h3M396 620.5h3M402 620.5h3M408 620.5h3M414 620.5h3M420 620.5h3M426 620.5h3M432 620.5h3M438 620.5h3M444 620.5h3M450 620.5h3M456 620.5h3M462 620.5h3M468 620.5h3M474 620.5h3M480 620.5h3M486 620.5h3M492 620.5h3M498 620.5h3M504 620.5h3M510 620.5h3M516 620.5h3M522 620.5h3M528 620.5h3M534 620.5h3M540 620.5h3M546 620.5h3M552 620.5h3M558 620.5h3M564 620.5h3M570 620.5h3M576 620.5h3M582 620.5h3M588 620.5h3M594 620.5h3M600 620.5h3M606 620.5h3M612 620.5h3M618 620.5h3M624 620.5h3M630 620.5h3M636 620.5h3M642 620.5h3M648 620.5h3M654 620.5h3M660 620.5h3M666 620.5h3M672 620.5h3M678 620.5h3M684 620.5h3M690 620.5h3M696 620.5h3M702 620.5h3M708 620.5h3M714 620.5h3M720 620.5h3M726 620.5h3M732 620.5h3M738 620.5h3M744 620.5h3M750 620.5h3M756 620.5h3M762 620.5h3M768 620.5h3M774 620.5h3M780 620.5h3M786 620.5h3M792 620.5h3M798 620.5h3M804 620.5h3M810 620.5h3M816 620.5h3M822 620.5h3M828 620.5h3M834 620.5h3M840 620.5h3M846 620.5h3M852 620.5h3M858 620.5h3M864 620.5h3M870 620.5h3M876 620.5h3M882 620.5h3M888 620.5h3M894 620.5h3M900 620.5h3M906 620.5h3M912 620.5h3M918 620.5h3M924 620.5h3M930 620.5h3M936 620.5h3M942 620.5h3M948 620.5h3M954 620.5h3M960 620.5h3M966 620.5h3M972 620.5h3M978 620.5h3M984 620.5h3M990 620.5h3M996 620.5h3M1002 620.5h3M1008 620.5h3M1014 620.5h3M1020 620.5h3M1026 620.5h3M1032 620.5h3M1038 620.5h3M1044 620.5h3M1050 620.5h3M1056 620.5h3M1062 620.5h3M1068 620.5h3M1074 620.5h3M1080 620.5h3M1086 620.5h3M1092 620.5h3M1098 620.5h3M1104 620.5h3M1110 620.5h3M1116 620.5h3M1122 620.5h3M1128 620.5h3M1134 620.5h3M1140 620.5h3M1146 620.5h3M1152 620.5h3M1158 620.5h3M1164 620.5h3M1170 620.5h3M1176 620.5h3M1182 620.5h3M1188 620.5h3M1194 620.5h3M1200 620.5h3M1206 620.5h3M1212 620.5h3M1218 620.5h3M1224 620.5h3M1230 620.5h3M1236 620.5h3M1242 620.5h3M1248 620.5h3M1254 620.5h3M1260 620.5h3M1266 620.5h3M1272 620.5h3M1278 620.5h3M1284 620.5h3M1290 620.5h3M1296 620.5h3M1302 620.5h3M1308 620.5h3M1314 620.5h3M1320 620.5h3M1326 620.5h3M1332 620.5h3M1338 620.5h3M1344 620.5h3M1350 620.5h3M1356 620.5h3M1362 620.5h3M1368 620.5h3M1374 620.5h3M1380 620.5h3M1386 620.5h3M1392 620.5h3M1398 620.5h3M1404 620.5h3M1410 620.5h3M1416 620.5h3M1422 620.5h3M1428 620.5h3M1434 620.5h3M1440 620.5h3M1446 620.5h3M1452 620.5h3M1458 620.5h3M1464 620.5h3M1470 620.5h3M1476 620.5h3M1482 620.5h3M1488 620.5h3M1494 620.5h3M1500 620.5h3M1506 620.5h3M1512 620.5h3M1518 620.5h3M1524 620.5h3M1530 620.5h3M1536 620.5h3M1542 620.5h3M1548 620.5h3M1554 620.5h3M1560 620.5h3M1566 620.5h3M1572 620.5h3M1578 620.5h3M1584 620.5h3M1590 620.5h3M1596 620.5h3M1602 620.5h3M1608 620.5h3M1614 620.5h3M1620 620.5h3" stroke="#c0c0c0" fill="none"/>
<path d="M6 670.5h3M12 670.5h3M18 670.5h3M24 670.5h3M30 670.5h3M36 670.5h3M42 670.5h3M48 670.5h3M54 670.5h3M60 670.5h3M66 670.5h3M72 670.5h3M78 670.5h3M84 670.5h3M90 670.5h3M96 670.5h3M102 670.5h3M108 670.5h3M114 670.5h3M120 670.5h3M126 670.5h3M132 670.5h3M138 670.5h3M144 670.5h3M150 670.5h3M156 670.5h3M162 670.5h3M168 670.5h3M174 670.5h3M180 670.5h3M186 670.5h3M192 670.5h3M198 670.5h3M204 670.5h3M210 670.5h3M216 670.5h3M222 670.5h3M228 670.5h3M234 670.5h3M240 670.5h3M246 670.5h3M252 670.5h3M258 670.5h3M264 670.5h3M270 670.5h3M276 670.5h3M282 670.5h3M288 670.5h3M294 670.5h3M300 670.5h3M306 670.5h3M312 670.5h3M318 670.5h3M324 670.5h3M330 670.5h3M336 670.5h3M342 670.5h3M348 670.5h3M354 670.5h3M360 670.5h3M366 670.5h3M372 670.5h3M378 670.5h3M384 670.5h3M390 670.5h3M396 670.5h3M402 670.5h3M408 670.5h3M414 670.5h3M420 670.5h3M426 670.5h3M432 670.5h3M438 670.5h3M444 670.5h3M450 670.5h3M456 670.5h3M462 670.5h3M468 670.5h3M474 670.5h3M480 670.5h3M486 670.5h3M492 670.5h3M498 670.5h3M504 670.5h3M510 670.5h3M516 670.5h3M522 670.5h3M528 670.5h3M534 670.5h3M540 670.5h3M546 670.5h3M552 670.5h3M558 670.5h3M564 670.5h3M570 670.5h3M576 670.5h3M582 670.5h3M588 670.5h3M594 670.5h3M600 670.5h3M606 670.5h3M612 670.5h3M618 670.5h3M624 670.5h3M630 670.5h3M636 670.5h3M642 670.5h3M648 670.5h3M654 670.5h3M660 670.5h3M666 670.5h3M672 670.5h3M678 670.5h3M684 670.5h3M690 670.5h3M696 670.5h3M702 670.5h3M708 670.5h3M714 670.5h3M720 670.5h3M726 670.5h3M732 670.5h3M738 670.5h3M744 670.5h3M750 670.5h3M756 670.5h3M762 670.5h3M768 670.5h3M774 670.5h3M780 670.5h3M786 670.5h3M792 670.5h3M798 670.5h3M804 670.5h3M810 670.5h3M816 670.5h3M822 670.5h3M828 670.5h3M834 670.5h3M840 670.5h3M846 670.5h3M852 670.5h3M858 670.5h3M864 670.5h3M870 670.5h3M876 670.5h3M882 670.5h3M888 670.5h3M894 670.5h3M900 670.5h3M906 670.5h3M912 670.5h3M918 670.5h3M924 670.5h3M930 670.5h3M936 670.5h3M942 670.5h3M948 670.5h3M954 670.5h3M960 670.5h3M966 670.5h3M972 670.5h3M978 670.5h3M984 670.5h3M990 670.5h3M996 670.5h3M1002 670.5h3M1008 670.5h3M1014 670.5h3M1020 670.5h3M1026 670.5h3M1032 670.5h3M1038 670.5h3M1044 670.5h3M1050 670.5h3M1056 670.5h3M1062 670.5h3M1068 670.5h3M1074 670.5h3M1080 670.5h3M1086 670.5h3M1092 670.5h3M1098 670.5h3M1104 670.5h3M1110 670.5h3M1116 670.5h3M1122 670.5h3M1128 670.5h3M1134 670.5h3M1140 670.5h3M1146 670.5h3M1152 670.5h3M1158 670.5h3M1164 670.5h3M1170 670.5h3M1176 670.5h3M1182 670.5h3M1188 670.5h3M1194 670.5h3M1200 670.5h3M1206 670.5h3M1212 670.5h3M1218 670.5h3M1224 670.5h3M1230 670.5h3M1236 670.5h3M1242 670.5h3M1248 670.5h3M1254 670.5h3M1260 670.5h3M1266 670.5h3M1272 670.5h3M1278 670.5h3M1284 670.5h3M1290 670.5h3M1296 670.5h3M1302 670.5h3M1308 670.5h3M1314 670.5h3M1320 670.5h3M1326 670.5h3M1332 670.5h3M1338 670.5h3M1344 670.5h3M1350 670.5h3M1356 670.5h3M1362 670.5h3M1368 670.5h3M1374 670.5h3M1380 670.5h3M1386 670.5h3M1392 670.5h3M1398 670.5h3M1404 670.5h3M1410 670.5h3M1416 670.5h3M1422 670.5h3M1428 670.5h3M1434 670.5h3M1440 670.5h3M1446 670.5h3M1452 670.5h3M1458 670.5h3M1464 670.5h3M1470 670.5h3M1476 670.5h3M1482 670.5h3M1488 670.5h3M1494 670.5h3M1500 670.5h3M1506 670.5h3M1512 670.5h3M1518 670.5h3M1524 670.5h3M1530 670.5h3M1536 670.5h3M1542 670.5h3M1548 670.5h3M1554 670.5h3M1560 670.5h3M1566 670.5h3M1572 670.5h3M1578 670.5h3M1584 670.5h3M1590 670.5h3M1596 670.5h3M1602 670.5h3M1608 670.5h3M1614 670.5h3M1620 670.5h3" stroke="#c0c0c0" fill="none"/>
<path d="M5.5 651V652M6.5 651V652M7.5 651V652M8.5 651V652M9.5 650V651M10.5 650V651M11.5 650V651M12.5 650V651M13.5 650V651M14.5 650V651M15.5 649V650M16.5 649V650M17.5 649V650M18.5 649V650M19.5 648V649M20.5 648V649M21.5 648V649M22.5 648V649M23.5 648V649M24.5 648V649M25.5 648V649M26.5 649V650M27.5 649V650M28.5 649V650M29.5 649V650M30.5 650V651M31.5 651V652M32.5 652V653M33.5 652V653M34.5 653V654M35.5 654V655M36.5 655V656M37.5 655V657M38.5 654V655M39.5 652V654M40.5 651V652M41.5 649V651M42.5 648V649M43.5 646V648M44.5 645V646M45.5 643V645M46.5 642V643M47.5 641V642M48.5 640V641M49.5 639V640M50.5 638V639M51.5 637V638M52.5 636V637M53.5 635V636M54.5 635V636M55.5 635V636M56.5 635V636M57.5 635V636M58.5 636V637M59.5 636V637M60.5 636V637M61.5 636V637M62.5 637V638M63.5 637V638M64.5 638V639M65.5 639V640M66.5 639V640M67.5 640V641M68.5 641V642M69.5 642V643M70.5 642V643M71.5 642V643M72.5 642V643M73.5 643V644M74.5 643V644M75.5 643V644M76.5 643V644M77.5 644V645M78.5 643V644M79.5 643V644M80.5 643V644M81.5 643V644M82.5 643V644M83.5 642V643M84.5 642V643M85.5 642V643M86.5 643V644M87.5 644V646M88.5 646V647M89.5 647V648M90.5 648V649M91.5 649V650M92.5 650V652M93.5 652V653M94.5 651V652M95.5 651V652M96.5 651V652M97.5 651V652M98.5 651V652M99.5 651V652M100.5 651V652M101.5 651V652M102.5 650V651M103.5 650V651M104.5 650V651M105.5 650V651M106.5 650V651M107.5 649V650M108.5 649V650M109.5 649V650M110.5 649V650M111.5 649V650M112.5 649V650M113.5 649V650M114.5 649V650M115.5 649V650M116.5 649V650M117.5 649V650M118.5 649V650M119.5 649V650M120.5 649V650M121.5 649V650M122.5 649V650M123.5 649V650M124.5 649V650M125.5 649V650M126.5 649V650M127.5 649V650M128.5 649V650M129.5 649V650M130.5 649V650M131.5 649V650M132.5 649V650M133.5 649V650M134.5 648V649M135.5 647V648M136.5 645V647M137.5 644V645M138.5 643V644M139.5 642V643M140.5 641V642M141.5 640V641M142.5 641V642M143.5 642V643M144.5 643V644M145.5 644V645M146.5 645V646M147.5 646V648M148.5 648V649M149.5 649V650M150.5 650V651M151.5 651V652M152.5 652V654M153.5 654V655M154.5 655V656M155.5 656V657M156.5 657V659M157.5 659V660M158.5 659V660M159.5 659V660M160.5 660V661M161.5 660V661M162.5 661V662M163.5 661V662M164.5 662V663M165.5 662V663M166.5 662V663M167.5 662V663M168.5 662V663M169.5 661V662M170.5 661V662M171.5 661V662M172.5 661V662M173.5 661V662M174.5 661V662M175.5 661V662M176.5 662V663M177.5 662V663M178.5 662V663M179.5 662V663M180.5 663V664M181.5 663V664M182.5 663V664M183.5 663V664M184.5 663V664M185.5 664V665M186.5 664V665M187.5 664V665M188.5 664V665M189.5 664V665M190.5 665V666M191.5 666V667M192.5 667V668M193.5 668V669M194.5 669V670M195.5 670V671M196.5 671V672M197.5 672V673M198.5 672V673M199.5 673V674M200.5 673V674M201.5 674V675M202.5 675V676M203.5 675V676M204.5 676V677M205.5 677V678M206.5 677V678M207.5 677V678M208.5 677V678M209.5 677V678M210.5 677V678M211.5 677V678M212.5 677V678M213.5 677V678M214.5 676V677M215.5 675V676M216.5 675V676M217.5 674V675M218.5 673V674M219.5 673V674M220.5 672V673M221.5 671V672M222.5 671V672M223.5 671V672M224.5 671V672M225.5 671V672M226.5 671V672M227.5 671V672M228.5 671V672M229.5 671V672M230.5 671V672M231.5 671V672M232.5 670V671M233.5 670V671M234.5 670V671M235.5 670V671M236.5 670V671M237.5 669V671M238.5 667V669M239.5 666V667M240.5 664V666M241.5 662V664M242.5 661V662M243.5 659V661M244.5 657V659M245.5 656V657M246.5 657V658M247.5 658V659M248.5 658V659M249.5 659V660M250.5 660V661M251.5 661V662M252.5 662V663M253.5 662V663M254.5 663V664M255.5 663V664M256.5 663V664M257.5 663V664M258.5 663V664M259.5 663V664M260.5 663V664M261.5 664V665M262.5 664V665M263.5 664V665M264.5 664V665M265.5 665V666M266.5 665V666M267.5 665V666M268.5 666V667M269.5 666V667M270.5 667V668M271.5 667V668M272.5 668V669M273.5 668V669M274.5 669V670M275.5 670V671M276.5 670V671M277.5 671V672M278.5 671V672M279.5 670V671M280.5 670V671M281.5 670V671M282.5 669V670M283.5 669V670M284.5 669V670M285.5 669V670M286.5 669V670M287.5 669V670M288.5 669V670M289.5 670V671M290.5 670V671M291.5 670V671M292.5 671V672M293.5 671V672M294.5 671V672M295.5 672V673M296.5 672V673M297.5 673V674M298.5 673V674M299.5 674V675M300.5 674V675M301.5 675V676M302.5 674V675M303.5 673V674M304.5 672V673M305.5 671V672M306.5 670V671M307.5 669V670M308.5 668V669M309.5 667V668M310.5 667V668M311.5 667V668M312.5 667V668M313.5 667V668M314.5 668V669M315.5 668V669M316.5 668V669M317.5 668V669M318.5 669V670M319.5 670V671M320.5 671V672M321.5 672V673M322.5 673V674M323.5 674V675M324.5 675V676M325.5 675V677M326.5 674V675M327.5 672V674M328.5 671V672M329.5 669V671M330.5 668V669M331.5 666V668M332.5 665V666M333.5 664V665M334.5 664V665M335.5 664V665M336.5 665V666M337.5 665V666M338.5 665V666M339.5 666V667M340.5 666V667M341.5 667V668M342.5 667V668M343.5 667V668M344.5 667V668M345.5 667V668M346.5 667V668M347.5 667V668M348.5 667V668M349.5 667V668M350.5 666V667M351.5 666V667M352.5 666V667M353.5 666V667M354.5 666V667M355.5 666V667M356.5 666V667M357.5 666V667M358.5 665V666M359.5 664V665M360.5 663V664M361.5 662V663M362.5 661V662M363.5 660V661M364.5 659V660M365.5 658V659M366.5 658V659M367.5 658V659M368.5 658V659M369.5 659V660M370.5 659V660M371.5 659V660M372.5 659V660M373.5 660V661M374.5 660V661M375.5 660V661M376.5 660V661M377.5 660V661M378.5 660V661M379.5 661V662M380.5 661V662M381.5 661V662M382.5 662V663M383.5 662V663M384.5 663V664M385.5 664V665M386.5 664V665M387.5 665V666M388.5 665V666M389.5 666V668M390.5 668V669M391.5 669V670M392.5 670V672M393.5 672V673M394.5 673V675M395.5 675V676M396.5 676V677M397.5 677V678M398.5 677V678M399.5 678V679M400.5 678V679M401.5 678V679M402.5 678V679M403.5 678V679M404.5 678V679M405.5 678V679M406.5 678V679M407.5 678V679M408.5 678V679M409.5 678V679M410.5 678V679M411.5 678V679M412.5 678V679M413.5 678V679M414.5 677V678M415.5 676V677M416.5 676V677M417.5 675V676M418.5 674V675M419.5 673V674M420.5 673V674M421.5 670V673M422.5 667V670M423.5 665V667M424.5 662V665M425.5 659V662M426.5 656V659M427.5 653V656M428.5 651V653M429.5 649V651M430.5 648V649M431.5 646V648M432.5 645V646M433.5 643V645M434.5 642V643M435.5 640V642M436.5 639V640M437.5 638V639M438.5 638V639M439.5 638V639M440.5 638V639M441.5 639V640M442.5 639V640M443.5 639V640M444.5 639V640M445.5 640V641M446.5 640V641M447.5 640V641M448.5 641V642M449.5 641V642M450.5 642V643M451.5 642V643M452.5 642V643M453.5 643V644M454.5 643V644M455.5 644V645M456.5 645V646M457.5 645V646M458.5 646V647M459.5 647V648M460.5 647V648M461.5 648V649M462.5 648V649M463.5 648V649M464.5 648V649M465.5 649V650M466.5 649V650M467.5 649V650M468.5 649V650M469.5 650V651M470.5 650V651M471.5 650V651M472.5 650V651M473.5 650V651M474.5 650V651M475.5 651V652M476.5 651V652M477.5 651V652M478.5 651V652M479.5 650V651M480.5 650V651M481.5 649V650M482.5 649V650M483.5 649V650M484.5 648V649M485.5 648V649M486.5 648V649M487.5 648V649M488.5 649V650M489.5 649V650M490.5 649V650M491.5 649V650M492.5 650V651M493.5 650V651M494.5 650V651M495.5 649V650M496.5 649V650M497.5 649V650M498.5 649V650M499.5 648V649M500.5 648V649M501.5 648V649M502.5 648V649M503.5 648V649M504.5 648V649M505.5 648V649M506.5 648V649M507.5 648V649M508.5 648V649M509.5 648V649M510.5 649V650M511.5 650V651M512.5 650V651M513.5 651V652M514.5 652V653M515.5 653V654M516.5 654V655M517.5 655V656M518.5 655V656M519.5 654V655M520.5 654V655M521.5 654V655M522.5 654V655M523.5 654V655M524.5 654V655M525.5 654V655M526.5 654V655M527.5 653V654M528.5 653V654M529.5 653V654M530.5 653V654M531.5 653V654M532.5 653V654M533.5 653V654M534.5 653V654M535.5 653V654M536.5 653V654M537.5 653V654M538.5 653V654M539.5 653V654M540.5 653V654M541.5 653V654M542.5 652V653M543.5 652V653M544.5 652V653M545.5 651V652M546.5 651V652M547.5 651V652M548.5 650V651M549.5 650V651M550.5 649V650M551.5 649V650M552.5 648V649M553.5 648V649M554.5 647V648M555.5 647V648M556.5 646V647M557.5 646V647M558.5 645V646M559.5 644V645M560.5 644V645M561.5 643V644M562.5 642V643M563.5 642V643M564.5 641V642M565.5 640V641M566.5 640V641M567.5 640V641M568.5 640V641M569.5 639V640M570.5 639V640M571.5 639V640M572.5 639V640M573.5 639V640M574.5 640V642M575.5 642V644M576.5 644V645M577.5 645V647M578.5 647V649M579.5 649V650M580.5 650V652M581.5 652V653M582.5 651V652M583.5 650V651M584.5 648V650M585.5 647V648M586.5 646V647M587.5 645V646M588.5 644V645M589.5 643V644M590.5 644V645M591.5 644V645M592.5 645V646M593.5 646V647M594.5 646V647M595.5 647V648M596.5 648V649M597.5 649V650M598.5 649V650M599.5 649V650M600.5 649V650M601.5 650V651M602.5 650V651M603.5 650V651M604.5 651V652M605.5 651V652M606.5 651V652M607.5 650V651M608.5 650V651M609.5 650V651M610.5 650V651M611.5 650V651M612.5 650V651M613.5 648V651M614.5 646V648M615.5 644V646M616.5 642V644M617.5 640V642M618.5 637V640M619.5 635V637M620.5 633V635M621.5 632V633M622.5 633V634M623.5 633V634M624.5 634V635M625.5 634V635M626.5 635V636M627.5 635V636M628.5 636V637M629.5 636V637M630.5 637V638M631.5 637V638M632.5 638V639M633.5 638V639M634.5 639V640M635.5 639V640M636.5 640V641M637.5 640V641M638.5 640V641M639.5 640V641M640.5 641V642M641.5 641V642M642.5 641V642M643.5 642V643M644.5 642V643M645.5 642V643M646.5 642V643M647.5 642V643M648.5 642V643M649.5 642V643M650.5 642V643M651.5 642V643M652.5 642V643M653.5 642V643M654.5 641V642M655.5 640V641M656.5 639V640M657.5 638V639M658.5 638V639M659.5 637V638M660.5 636V637M661.5 635V636M662.5 635V636M663.5 636V637M664.5 636V637M665.5 636V637M666.5 637V638M667.5 637V638M668.5 637V638M669.5 638V639M670.5 637V638M671.5 637V638M672.5 636V637M673.5 635V636M674.5 635V636M675.5 634V635M676.5 633V634M677.5 633V634M678.5 633V634M679.5 634V635M680.5 634V635M681.5 634V635M682.5 635V636M683.5 635V636M684.5 635V636M685.5 636V637M686.5 635V636M687.5 635V636M688.5 635V636M689.5 634V635M690.5 634V635M691.5 634V635M692.5 633V634M693.5 633V634M694.5 632V633M695.5 632V633M696.5 631V632M697.5 630V631M698.5 630V631M699.5 629V630M700.5 629V630M701.5 628V629M702.5 628V629M703.5 628V629M704.5 628V629M705.5 628V629M706.5 628V629M707.5 628V629M708.5 628V629M709.5 628V629M710.5 628V629M711.5 627V628M712.5 627V628M713.5 627V628M714.5 627V628M715.5 626V627M716.5 626V627M717.5 626V627M718.5 626V627M719.5 626V627M720.5 626V627M721.5 626V627M722.5 626V627M723.5 626V627M724.5 626V627M725.5 626V627M726.5 626V627M727.5 626V627M728.5 626V627M729.5 626V627M730.5 626V627M731.5 626V627M732.5 626V627M733.5 626V627M734.5 625V626M735.5 625V626M736.5 625V626M737.5 624V625M738.5 624V625M739.5 624V625M740.5 623V624M741.5 623V624M742.5 623V624M743.5 623V624M744.5 623V624M745.5 623V624M746.5 623V624M747.5 623V624M748.5 623V624M749.5 623V624M750.5 622V623M751.5 622V623M752.5 622V623M753.5 622V623M754.5 621V622M755.5 621V622M756.5 621V622M757.5 620V621M758.5 620V621M759.5 620V621M760.5 620V621M761.5 619V620M762.5 619V620M763.5 619V620M764.5 619V620M765.5 618V619M766.5 618V619M767.5 618V619M768.5 618V619M769.5 617V618M770.5 617V618M771.5 617V618M772.5 617V618M773.5 617V619M774.5 619V621M775.5 621V623M776.5 623V625M777.5 625V627M778.5 627V629M779.5 629V631M780.5 631V634M781.5 634V635M782.5 634V635M783.5 634V635M784.5 634V635M785.5 634V635M786.5 634V635M787.5 634V635M788.5 634V635M789.5 634V635M790.5 634V635M791.5 634V635M792.5 634V635M793.5 634V635M794.5 634V635M795.5 634V635M796.5 635V636M797.5 635V636M798.5 635V636M799.5 634V635M800.5 634V635M801.5 634V635M802.5 634V635M803.5 634V635M804.5 634V635M805.5 634V635M806.5 633V634M807.5 633V634M808.5 632V633M809.5 632V633M810.5 631V632M811.5 631V632M812.5 630V631M813.5 630V631M814.5 629V630M815.5 628V629M816.5 628V629M817.5 627V628M818.5 627V628M819.5 626V627M820.5 626V627M821.5 625V626M822.5 625V626M823.5 625V626M824.5 625V626M825.5 625V626M826.5 625V626M827.5 625V626M828.5 625V626M829.5 625V626M830.5 625V626M831.5 626V627M832.5 626V627M833.5 626V627M834.5 626V627M835.5 626V627M836.5 627V628M837.5 627V628M838.5 626V627M839.5 625V626M840.5 624V625M841.5 623V624M842.5 622V623M843.5 622V623M844.5 621V622M845.5 620V621M846.5 620V621M847.5 621V622M848.5 621V622M849.5 621V622M850.5 622V623M851.5 622V623M852.5 622V623M853.5 623V624M854.5 622V623M855.5 622V623M856.5 622V623M857.5 621V622M858.5 621V622M859.5 621V622M860.5 620V621M861.5 620V621M862.5 619V620M863.5 618V619M864.5 617V618M865.5 616V617M866.5 615V616M867.5 614V615M868.5 613V614M869.5 612V613M870.5 612V613M871.5 612V613M872.5 612V613M873.5 611V612M874.5 611V612M875.5 611V612M876.5 611V612M877.5 611V612M878.5 611V612M879.5 611V612M880.5 611V612M881.5 611V612M882.5 612V613M883.5 612V613M884.5 612V613M885.5 612V613M886.5 613V614M887.5 613V614M888.5 614V615M889.5 615V616M890.5 616V617M891.5 616V617M892.5 617V618M893.5 618V619M894.5 618V619M895.5 619V620M896.5 620V621M897.5 620V621M898.5 621V622M899.5 622V623M900.5 622V623M901.5 623V624M902.5 622V623M903.5 622V623M904.5 621V622M905.5 621V622M906.5 620V621M907.5 620V621M908.5 620V621M909.5 619V620M910.5 619V620M911.5 619V620M912.5 619V620M913.5 618V619M914.5 618V619M915.5 618V619M916.5 618V619M917.5 618V619M918.5 618V619M919.5 618V619M920.5 617V618M921.5 617V618M922.5 617V618M923.5 617V618M924.5 617V618M925.5 617V618M926.5 617V618M927.5 618V619M928.5 619V620M929.5 620V621M930.5 620V621M931.5 621V622M932.5 622V623M933.5 623V624M934.5 623V624M935.5 622V623M936.5 622V623M937.5 622V623M938.5 622V623M939.5 621V622M940.5 621V622M941.5 621V622M942.5 620V621M943.5 620V621M944.5 619V620M945.5 619V620M946.5 618V619M947.5 618V619M948.5 617V618M949.5 617V618M950.5 618V619M951.5 619V620M952.5 620V621M953.5 621V622M954.5 622V623M955.5 623V624M956.5 624V625M957.5 624V626M958.5 626V627M959.5 627V629M960.5 629V630M961.5 630V631M962.5 631V633M963.5 633V634M964.5 634V635M965.5 635V636M966.5 636V637M967.5 636V637M968.5 636V637M969.5 636V637M970.5 637V638M971.5 637V638M972.5 637V638M973.5 638V639M974.5 638V639M975.5 638V639M976.5 638V639M977.5 638V639M978.5 638V639M979.5 639V640M980.5 639V640M981.5 639V640M982.5 639V640M983.5 638V639M984.5 638V639M985.5 637V638M986.5 637V638M987.5 636V637M988.5 636V637M989.5 636V637M990.5 637V638M991.5 638V639M992.5 639V641M993.5 641V642M994.5 642V643M995.5 643V645M996.5 645V646M997.5 646V647M998.5 646V647M999.5 646V647M1000.5 647V648M1001.5 647V648M1002.5 647V648M1003.5 647V648M1004.5 648V649M1005.5 648V649M1006.5 648V649M1007.5 647V648M1008.5 647V648M1009.5 647V648M1010.5 647V648M1011.5 646V647M1012.5 646V647M1013.5 646V647M1014.5 645V646M1015.5 645V646M1016.5 644V645M1017.5 643V644M1018.5 643V644M1019.5 642V643M1020.5 641V642M1021.5 641V642M1022.5 642V644M1023.5 644V645M1024.5 645V647M1025.5 647V648M1026.5 648V650M1027.5 650V651M1028.5 651V653M1029.5 653V654M1030.5 653V654M1031.5 652V653M1032.5 652V653M1033.5 652V653M1034.5 652V653M1035.5 652V653M1036.5 652V653M1037.5 652V653M1038.5 651V652M1039.5 651V652M1040.5 650V651M1041.5 650V651M1042.5 649V650M1043.5 649V650M1044.5 648V649M1045.5 648V649M1046.5 648V649M1047.5 649V650M1048.5 649V650M1049.5 650V651M1050.5 650V651M1051.5 651V652M1052.5 651V652M1053.5 652V653M1054.5 651V652M1055.5 650V651M1056.5 649V650M1057.5 648V649M1058.5 647V648M1059.5 646V647M1060.5 645V646M1061.5 644V645M1062.5 644V645M1063.5 644V645M1064.5 644V645M1065.5 643V644M1066.5 643V644M1067.5 643V644M1068.5 643V644M1069.5 643V644M1070.5 642V643M1071.5 641V642M1072.5 641V642M1073.5 640V641M1074.5 639V640M1075.5 638V639M1076.5 638V639M1077.5 637V638M1078.5 637V638M1079.5 637V638M1080.5 637V638M1081.5 637V638M1082.5 638V639M1083.5 638V639M1084.5 638V639M1085.5 638V639M1086.5 638V639M1087.5 638V639M1088.5 637V638M1089.5 637V638M1090.5 637V638M1091.5 637V638M1092.5 637V638M1093.5 637V638M1094.5 636V637M1095.5 636V637M1096.5 635V636M1097.5 635V636M1098.5 634V635M1099.5 634V635M1100.5 633V634M1101.5 633V634M1102.5 634V635M1103.5 635V636M1104.5 636V637M1105.5 637V639M1106.5 639V640M1107.5 640V641M1108.5 641V642M1109.5 642V643M1110.5 641V642M1111.5 641V642M1112.5 640V641M1113.5 640V641M1114.5 639V640M1115.5 638V639M1116.5 638V639M1117.5 637V638M1118.5 636V637M1119.5 636V637M1120.5 635V636M1121.5 635V636M1122.5 634V635M1123.5 634V635M1124.5 633V634M1125.5 633V634M1126.5 633V634M1127.5 633V634M1128.5 633V634M1129.5 633V634M1130.5 633V634M1131.5 633V634M1132.5 634V635M1133.5 634V635M1134.5 634V635M1135.5 634V635M1136.5 635V636M1137.5 635V636M1138.5 635V636M1139.5 636V637M1140.5 636V637M1141.5 637V638M1142.5 637V638M1143.5 637V638M1144.5 637V638M1145.5 637V638M1146.5 637V638M1147.5 637V638M1148.5 637V638M1149.5 637V638M1150.5 638V639M1151.5 639V640M1152.5 640V642M1153.5 642V643M1154.5 643V644M1155.5 644V646M1156.5 646V647M1157.5 647V648M1158.5 646V647M1159.5 645V646M1160.5 644V645M1161.5 644V645M1162.5 643V644M1163.5 642V643M1164.5 641V642M1165.5 640V641M1166.5 640V641M1167.5 639V640M1168.5 639V640M1169.5 638V639M1170.5 638V639M1171.5 637V638M1172.5 637V638M1173.5 637V638M1174.5 637V638M1175.5 637V638M1176.5 637V638M1177.5 637V638M1178.5 637V638M1179.5 637V638M1180.5 637V638M1181.5 637V638M1182.5 636V637M1183.5 635V636M1184.5 635V636M1185.5 634V635M1186.5 633V634M1187.5 633V634M1188.5 632V633M1189.5 632V633M1190.5 632V633M1191.5 632V633M1192.5 632V633M1193.5 632V633M1194.5 632V633M1195.5 632V633M1196.5 633V634M1197.5 633V634M1198.5 633V634M1199.5 632V633M1200.5 632V633M1201.5 632V633M1202.5 632V633M1203.5 632V633M1204.5 632V633M1205.5 632V633M1206.5 631V632M1207.5 630V631M1208.5 629V630M1209.5 628V629M1210.5 627V628M1211.5 626V627M1212.5 625V626M1213.5 624V625M1214.5 624V625M1215.5 624V625M1216.5 624V625M1217.5 624V625M1218.5 625V626M1219.5 625V626M1220.5 625V626M1221.5 625V626M1222.5 625V626M1223.5 625V626M1224.5 625V626M1225.5 624V625M1226.5 624V625M1227.5 624V625M1228.5 624V625M1229.5 624V625M1230.5 625V626M1231.5 626V627M1232.5 627V628M1233.5 627V628M1234.5 628V629M1235.5 629V630M1236.5 630V631M1237.5 631V632M1238.5 630V631M1239.5 629V630M1240.5 629V630M1241.5 628V629M1242.5 627V628M1243.5 626V627M1244.5 626V627M1245.5 625V626M1246.5 626V627M1247.5 626V627M1248.5 627V628M1249.5 627V628M1250.5 628V629M1251.5 628V629M1252.5 629V630M1253.5 630V631M1254.5 630V631M1255.5 630V631M1256.5 630V631M1257.5 631V632M1258.5 631V632M1259.5 631V632M1260.5 632V633M1261.5 632V633M1262.5 631V632M1263.5 631V632M1264.5 630V631M1265.5 630V631M1266.5 629V630M1267.5 629V630M1268.5 628V629M1269.5 628V629M1270.5 628V629M1271.5 628V629M1272.5 629V630M1273.5 629V630M1274.5 629V630M1275.5 629V630M1276.5 630V631M1277.5 630V631M1278.5 630V631M1279.5 630V631M1280.5 630V631M1281.5 630V631M1282.5 630V631M1283.5 630V631M1284.5 630V631M1285.5 630V631" fill="none" stroke="#1e90ff" stroke-width="1"/>
<rect x="1625" y="584" width="2" height="1" fill="#000"/>
<rect x="1625" y="706" width="1" height="1" fill="#000"/>
<rect x="5" y="708" width="1" height="3" fill="#000"/>
<rect x="101" y="708" width="1" height="3" fill="#000"/>
<rect x="197" y="708" width="1" height="3" fill="#000"/>
<rect x="293" y="708" width="1" height="3" fill="#000"/>
<rect x="389" y="708" width="1" height="3" fill="#000"/>
<rect x="485" y="708" width="1" height="3" fill="#000"/>
<rect x="581" y="708" width="1" height="3" fill="#000"/>
<rect x="677" y="708" width="1" height="3" fill="#000"/>
<rect x="773" y="708" width="1" height="3" fill="#000"/>
<rect x="869" y="708" width="1" height="3" fill="#000"/>
<rect x="965" y="708" width="1" height="3" fill="#000"/>
<rect x="1061" y="708" width="1" height="3" fill="#000"/>
<rect x="1157" y="708" width="1" height="3" fill="#000"/>
<rect x="1253" y="708" width="1" height="3" fill="#000"/>
<path d="M8 49 L17 49 L12.5 44 Z" fill="#000" shape-rendering="auto"/>
<g shape-rendering="auto" fill="#606060"><path fill-rule="evenodd" d="M41.9 22.6 L45.9 11 L48.3 11 L52.3 22.6 L49.9 22.6 L49 19.7 L45.2 19.7 L44.3 22.6 Z M45.8 17.9 L48.4 17.9 L47.1 13.7 Z"/><path transform="translate(0,0) skewX(-8) translate(3.4,0)" d="M17.4 27.8 L17.4 21 L22.3 21 L22.3 22.4 L19.1 22.4 L19.1 23.8 L21.8 23.8 L21.8 25.1 L19.1 25.1 L19.1 27.8 Z"/></g>
</svg>
<div class="t" style="left:1630.6px;top:52px;font-size:12px;line-height:14px;color:#000;letter-spacing:0.45px;">63.185</div>
<div class="t" style="left:1630.6px;top:101px;font-size:12px;line-height:14px;color:#000;letter-spacing:0.45px;">61.760</div>
<div class="t" style="left:1630.6px;top:150px;font-size:12px;line-height:14px;color:#000;letter-spacing:0.45px;">60.335</div>
<div class="t" style="left:1630.6px;top:199px;font-size:12px;line-height:14px;color:#000;letter-spacing:0.45px;">58.935</div>
<div class="t" style="left:1630.6px;top:248px;font-size:12px;line-height:14px;color:#000;letter-spacing:0.45px;">57.510</div>
<div class="t" style="left:1630.6px;top:346px;font-size:12px;line-height:14px;color:#000;letter-spacing:0.45px;">54.685</div>
<div class="t" style="left:1630.6px;top:395px;font-size:12px;line-height:14px;color:#000;letter-spacing:0.45px;">53.260</div>
<div class="t" style="left:1630.6px;top:444px;font-size:12px;line-height:14px;color:#000;letter-spacing:0.45px;">51.860</div>
<div class="t" style="left:1630.6px;top:40px;font-size:12px;line-height:14px;color:#fff;letter-spacing:0.45px;">63.565</div>
<div class="t" style="left:1630.6px;top:67px;font-size:12px;line-height:14px;color:#fff;letter-spacing:0.45px;">62.750</div>
<div class="t" style="left:1630.6px;top:126px;font-size:12px;line-height:14px;color:#fff;letter-spacing:0.45px;">61.084</div>
<div class="t" style="left:1630.6px;top:215px;font-size:12px;line-height:14px;color:#fff;letter-spacing:0.45px;">58.496</div>
<div class="t" style="left:1630.6px;top:298px;font-size:12px;line-height:14px;color:#fff;letter-spacing:0.45px;">56.094</div>
<div class="t" style="left:1630.6px;top:415px;font-size:12px;line-height:14px;color:#fff;letter-spacing:0.45px;">52.724</div>
<div class="t" style="left:1630.6px;top:491px;font-size:12px;line-height:14px;color:#fff;letter-spacing:0.45px;">50.522</div>
<div class="t" style="left:24.6px;top:64px;font-size:15px;line-height:18px;color:#fff;transform:scaleX(0.915);transform-origin:0 0;">SELL</div>
<div class="t" style="left:241.6px;top:64px;font-size:15px;line-height:18px;color:#fff;transform:scaleX(0.955);transform-origin:0 0;">BUY</div>
<div class="t" style="left:161.3px;top:61.7px;font-size:15.5px;line-height:18px;color:#000;letter-spacing:0.35px;">1.00</div>
<div class="t" style="left:46.8px;top:110.8px;font-size:14px;line-height:17px;color:#fff;font-weight:bold;transform:scaleX(1.22);transform-origin:0 0;">62</div>
<div class="t" style="left:68.2px;top:84.3px;font-size:43px;line-height:50px;color:#fff;transform:scaleX(0.935);transform-origin:0 0;">75</div>
<div class="t" style="left:116.8px;top:92.8px;font-size:14px;line-height:17px;color:#fff;font-weight:bold;transform:scaleX(1.4);transform-origin:0 0;">0</div>
<div class="t" style="left:188.9px;top:110.8px;font-size:14px;line-height:17px;color:#fff;font-weight:bold;transform:scaleX(1.22);transform-origin:0 0;">62</div>
<div class="t" style="left:212.4px;top:84.3px;font-size:43px;line-height:50px;color:#fff;transform:scaleX(0.935);transform-origin:0 0;">86</div>
<div class="t" style="left:260.2px;top:92.8px;font-size:14px;line-height:17px;color:#fff;font-weight:bold;transform:scaleX(1.4);transform-origin:0 0;">0</div>
<div class="t" style="left:1628px;top:523px;font-size:12px;line-height:14px;color:#000;letter-spacing:0.25px;">1.4303</div>
<div class="t" style="left:1628px;top:542px;font-size:12px;line-height:14px;color:#000;letter-spacing:0.25px;">0.00</div>
<div class="t" style="left:1628px;top:566px;font-size:12px;line-height:14px;color:#000;letter-spacing:0.25px;">-1.7355</div>
<div class="t" style="left:9px;top:525px;font-size:12px;line-height:14px;color:#000;letter-spacing:0.25px;">MACD(12,26,9) 0.6129 0.6049</div>
<div class="t" style="left:1628px;top:585px;font-size:12px;line-height:14px;color:#000;letter-spacing:0.25px;">100</div>
<div class="t" style="left:1627px;top:614px;font-size:12px;line-height:14px;color:#000;letter-spacing:0.25px;">70</div>
<div class="t" style="left:1627px;top:664px;font-size:12px;line-height:14px;color:#000;letter-spacing:0.25px;">30</div>
<div class="t" style="left:1628px;top:693px;font-size:12px;line-height:14px;color:#000;letter-spacing:0.25px;">0</div>
<div class="t" style="left:9px;top:587px;font-size:12px;line-height:14px;color:#000;letter-spacing:0.25px;">RSI(14) 62.1029</div>
<div class="t" style="left:4px;top:712px;font-size:12px;line-height:14px;color:#000;letter-spacing:0.2px;">12 Dec 2018</div>
<div class="t" style="left:100px;top:712px;font-size:12px;line-height:14px;color:#000;letter-spacing:0.2px;">14 Dec 17:00</div>
<div class="t" style="left:196px;top:712px;font-size:12px;line-height:14px;color:#000;letter-spacing:0.2px;">18 Dec 13:00</div>
<div class="t" style="left:292px;top:712px;font-size:12px;line-height:14px;color:#000;letter-spacing:0.2px;">20 Dec 13:00</div>
<div class="t" style="left:388px;top:712px;font-size:12px;line-height:14px;color:#000;letter-spacing:0.2px;">24 Dec 12:00</div>
<div class="t" style="left:484px;top:712px;font-size:12px;line-height:14px;color:#000;letter-spacing:0.2px;">27 Dec 17:00</div>
<div class="t" style="left:580px;top:712px;font-size:12px;line-height:14px;color:#000;letter-spacing:0.2px;">31 Dec 12:00</div>
<div class="t" style="left:676px;top:712px;font-size:12px;line-height:14px;color:#000;letter-spacing:0.2px;">3 Jan 17:00</div>
<div class="t" style="left:772px;top:712px;font-size:12px;line-height:14px;color:#000;letter-spacing:0.2px;">7 Jan 12:00</div>
<div class="t" style="left:868px;top:712px;font-size:12px;line-height:14px;color:#000;letter-spacing:0.2px;">9 Jan 13:00</div>
<div class="t" style="left:964px;top:712px;font-size:12px;line-height:14px;color:#000;letter-spacing:0.2px;">11 Jan 13:00</div>
<div class="t" style="left:1060px;top:712px;font-size:12px;line-height:14px;color:#000;letter-spacing:0.2px;">15 Jan 09:00</div>
<div class="t" style="left:1156px;top:712px;font-size:12px;line-height:14px;color:#000;letter-spacing:0.2px;">17 Jan 09:00</div>
<div class="t" style="left:1252px;top:712px;font-size:12px;line-height:14px;color:#000;letter-spacing:0.2px;">21 Jan 04:00</div>
<div class="t" style="left:22.8px;top:40px;font-size:12px;line-height:14px;color:#000;transform:scaleX(0.945);transform-origin:0 0;">UKOil-,H4</div>
<div class="t" style="left:82px;top:40px;font-size:12px;line-height:14px;color:#000;letter-spacing:0.3px;">62.770</div>
<div class="t" style="left:125.5px;top:40px;font-size:12px;line-height:14px;color:#000;letter-spacing:0.3px;">62.820</div>
<div class="t" style="left:168px;top:40px;font-size:12px;line-height:14px;color:#000;letter-spacing:0.3px;">62.750</div>
<div class="t" style="left:211.5px;top:40px;font-size:12px;line-height:14px;color:#000;letter-spacing:0.3px;">62.750</div>
<div class="t" style="left:161.5px;top:10px;font-size:12px;line-height:15px;color:#3e3e3e;will-change:transform;">M1</div>
<div class="t" style="left:195.5px;top:10px;font-size:12px;line-height:15px;color:#3e3e3e;will-change:transform;">M5</div>
<div class="t" style="left:227px;top:10px;font-size:12px;line-height:15px;color:#3e3e3e;will-change:transform;">M15</div>
<div class="t" style="left:261px;top:10px;font-size:12px;line-height:15px;color:#3e3e3e;will-change:transform;">M30</div>
<div class="t" style="left:299px;top:10px;font-size:12px;line-height:15px;color:#3e3e3e;will-change:transform;">H1</div>
<div class="t" style="left:331.5px;top:10px;font-size:12px;line-height:15px;color:#3e3e3e;will-change:transform;">H4</div>
<div class="t" style="left:366.5px;top:10px;font-size:12px;line-height:15px;color:#3e3e3e;will-change:transform;">D1</div>
<div class="t" style="left:400.5px;top:10px;font-size:12px;line-height:15px;color:#3e3e3e;will-change:transform;">W1</div>
<div class="t" style="left:432px;top:10px;font-size:12px;line-height:15px;color:#3e3e3e;will-change:transform;">MN</div>
</body></html>
